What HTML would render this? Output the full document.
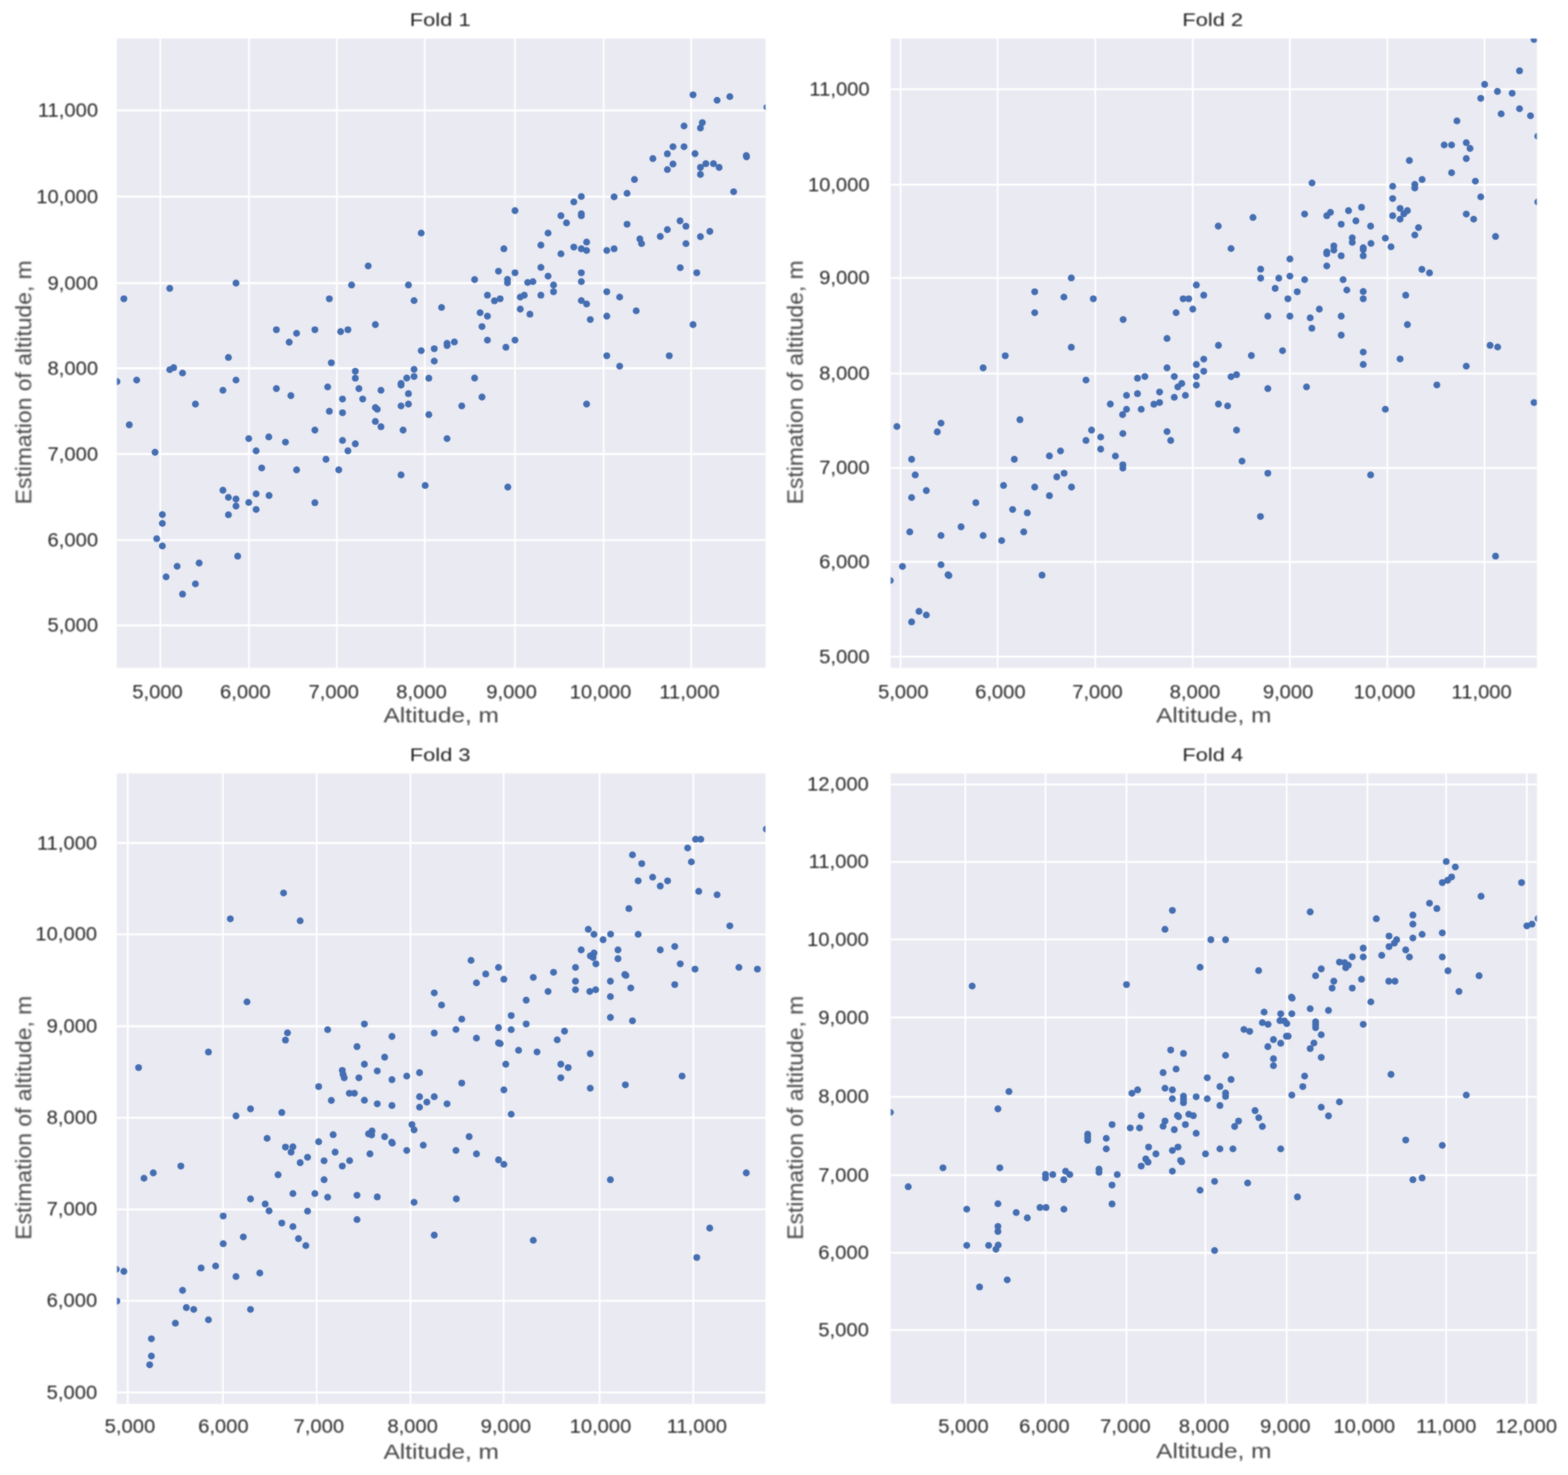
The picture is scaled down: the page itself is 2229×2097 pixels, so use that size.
<!DOCTYPE html>
<html lang="en"><head><meta charset="utf-8"><title>Fold scatter plots</title>
<style>html,body{margin:0;padding:0;background:#fff}body{width:2229px;height:2097px;overflow:hidden}svg{display:block}.bl{filter:blur(0.9px)}text{font-family:"Liberation Sans",sans-serif;fill:#222}.tk{font-size:27.5px}.ti{font-size:26.6px}.lb{font-size:29.6px;fill:#454545}.yl{font-size:31.2px;fill:#454545}.g{stroke:#fff;stroke-width:2.8}.v{stroke-width:2.5}.d{fill:#446eb2}</style></head><body>
<svg xmlns="http://www.w3.org/2000/svg" width="2229" height="2097" viewBox="0 0 2229 2097">
<rect width="2229" height="2097" fill="#fff"/>
<g class="bl">
<g>
<clipPath id="c1a"><rect x="166.4" y="55.0" width="921.7" height="894.2"/></clipPath>
<rect x="166.4" y="55.0" width="921.7" height="894.2" fill="#eaeaf2"/>
<g class="g">
<line class="v" x1="227.9" y1="55.0" x2="227.9" y2="949.2"/>
<line class="v" x1="354.0" y1="55.0" x2="354.0" y2="949.2"/>
<line class="v" x1="478.9" y1="55.0" x2="478.9" y2="949.2"/>
<line class="v" x1="603.9" y1="55.0" x2="603.9" y2="949.2"/>
<line class="v" x1="732.0" y1="55.0" x2="732.0" y2="949.2"/>
<line class="v" x1="858.1" y1="55.0" x2="858.1" y2="949.2"/>
<line class="v" x1="982.5" y1="55.0" x2="982.5" y2="949.2"/>
<line x1="166.4" y1="889.0" x2="1088.1" y2="889.0"/>
<line x1="166.4" y1="767.8" x2="1088.1" y2="767.8"/>
<line x1="166.4" y1="645.5" x2="1088.1" y2="645.5"/>
<line x1="166.4" y1="523.5" x2="1088.1" y2="523.5"/>
<line x1="166.4" y1="402.5" x2="1088.1" y2="402.5"/>
<line x1="166.4" y1="279.7" x2="1088.1" y2="279.7"/>
<line x1="166.4" y1="157.0" x2="1088.1" y2="157.0"/>
</g>
<g class="d" clip-path="url(#c1a)">
<circle cx="635.5" cy="491.3" r="4.9"/>
<circle cx="635.5" cy="488.1" r="4.9"/>
<circle cx="617.3" cy="495.8" r="4.9"/>
<circle cx="645.9" cy="486.2" r="4.9"/>
<circle cx="337.9" cy="790.7" r="4.9"/>
<circle cx="956.7" cy="208.6" r="4.9"/>
<circle cx="951.4" cy="505.8" r="4.9"/>
<circle cx="324.7" cy="508.2" r="4.9"/>
<circle cx="948.7" cy="218.7" r="4.9"/>
<circle cx="598.8" cy="498.6" r="4.9"/>
<circle cx="972.4" cy="179.1" r="4.9"/>
<circle cx="972.4" cy="208.6" r="4.9"/>
<circle cx="617.3" cy="513.4" r="4.9"/>
<circle cx="928.1" cy="225.5" r="4.9"/>
<circle cx="283.1" cy="800.5" r="4.9"/>
<circle cx="956.7" cy="233.2" r="4.9"/>
<circle cx="588.6" cy="525.1" r="4.9"/>
<circle cx="985.2" cy="461.5" r="4.9"/>
<circle cx="988.0" cy="218.5" r="4.9"/>
<circle cx="948.7" cy="241.1" r="4.9"/>
<circle cx="277.8" cy="830.1" r="4.9"/>
<circle cx="685.2" cy="464.3" r="4.9"/>
<circle cx="588.6" cy="535.3" r="4.9"/>
<circle cx="682.5" cy="444.6" r="4.9"/>
<circle cx="995.7" cy="182.0" r="4.9"/>
<circle cx="995.7" cy="238.0" r="4.9"/>
<circle cx="578.2" cy="537.5" r="4.9"/>
<circle cx="674.7" cy="537.5" r="4.9"/>
<circle cx="609.6" cy="537.7" r="4.9"/>
<circle cx="995.7" cy="248.0" r="4.9"/>
<circle cx="904.4" cy="441.9" r="4.9"/>
<circle cx="998.4" cy="174.3" r="4.9"/>
<circle cx="880.9" cy="520.6" r="4.9"/>
<circle cx="335.5" cy="540.4" r="4.9"/>
<circle cx="259.5" cy="530.4" r="4.9"/>
<circle cx="627.7" cy="437.1" r="4.9"/>
<circle cx="692.9" cy="449.5" r="4.9"/>
<circle cx="692.9" cy="483.6" r="4.9"/>
<circle cx="324.7" cy="731.9" r="4.9"/>
<circle cx="1003.4" cy="232.7" r="4.9"/>
<circle cx="901.9" cy="255.2" r="4.9"/>
<circle cx="570.1" cy="545.2" r="4.9"/>
<circle cx="570.1" cy="547.6" r="4.9"/>
<circle cx="251.8" cy="805.1" r="4.9"/>
<circle cx="259.5" cy="844.7" r="4.9"/>
<circle cx="364.1" cy="724.3" r="4.9"/>
<circle cx="588.6" cy="427.4" r="4.9"/>
<circle cx="392.9" cy="468.8" r="4.9"/>
<circle cx="392.9" cy="552.5" r="4.9"/>
<circle cx="702.9" cy="427.7" r="4.9"/>
<circle cx="246.9" cy="522.7" r="4.9"/>
<circle cx="1014.2" cy="232.7" r="4.9"/>
<circle cx="316.9" cy="554.9" r="4.9"/>
<circle cx="985.2" cy="134.8" r="4.9"/>
<circle cx="335.5" cy="719.5" r="4.9"/>
<circle cx="862.6" cy="449.5" r="4.9"/>
<circle cx="862.6" cy="505.8" r="4.9"/>
<circle cx="880.9" cy="422.4" r="4.9"/>
<circle cx="241.3" cy="525.6" r="4.9"/>
<circle cx="1019.4" cy="142.6" r="4.9"/>
<circle cx="580.6" cy="559.7" r="4.9"/>
<circle cx="692.9" cy="419.7" r="4.9"/>
<circle cx="353.6" cy="714.4" r="4.9"/>
<circle cx="711.0" cy="424.8" r="4.9"/>
<circle cx="1022.3" cy="238.0" r="4.9"/>
<circle cx="236.1" cy="820.1" r="4.9"/>
<circle cx="685.2" cy="564.5" r="4.9"/>
<circle cx="891.4" cy="274.9" r="4.9"/>
<circle cx="862.6" cy="414.8" r="4.9"/>
<circle cx="335.5" cy="709.5" r="4.9"/>
<circle cx="324.7" cy="707.1" r="4.9"/>
<circle cx="541.6" cy="554.9" r="4.9"/>
<circle cx="719.2" cy="493.7" r="4.9"/>
<circle cx="230.8" cy="731.6" r="4.9"/>
<circle cx="230.8" cy="744.1" r="4.9"/>
<circle cx="230.8" cy="776.2" r="4.9"/>
<circle cx="873.0" cy="279.9" r="4.9"/>
<circle cx="241.3" cy="410.0" r="4.9"/>
<circle cx="382.5" cy="704.5" r="4.9"/>
<circle cx="411.1" cy="486.5" r="4.9"/>
<circle cx="364.1" cy="702.1" r="4.9"/>
<circle cx="413.5" cy="562.5" r="4.9"/>
<circle cx="277.8" cy="574.5" r="4.9"/>
<circle cx="580.6" cy="574.5" r="4.9"/>
<circle cx="580.6" cy="405.2" r="4.9"/>
<circle cx="533.6" cy="461.5" r="4.9"/>
<circle cx="570.1" cy="577.1" r="4.9"/>
<circle cx="656.4" cy="577.1" r="4.9"/>
<circle cx="222.8" cy="765.9" r="4.9"/>
<circle cx="1037.5" cy="137.4" r="4.9"/>
<circle cx="335.5" cy="402.5" r="4.9"/>
<circle cx="721.4" cy="402.0" r="4.9"/>
<circle cx="316.9" cy="697.0" r="4.9"/>
<circle cx="533.6" cy="579.4" r="4.9"/>
<circle cx="839.1" cy="454.3" r="4.9"/>
<circle cx="421.6" cy="473.9" r="4.9"/>
<circle cx="536.3" cy="581.9" r="4.9"/>
<circle cx="732.1" cy="483.6" r="4.9"/>
<circle cx="674.7" cy="397.5" r="4.9"/>
<circle cx="721.9" cy="692.5" r="4.9"/>
<circle cx="1042.9" cy="272.6" r="4.9"/>
<circle cx="721.4" cy="397.1" r="4.9"/>
<circle cx="604.4" cy="690.2" r="4.9"/>
<circle cx="833.9" cy="432.2" r="4.9"/>
<circle cx="833.9" cy="574.5" r="4.9"/>
<circle cx="732.1" cy="299.5" r="4.9"/>
<circle cx="609.6" cy="589.5" r="4.9"/>
<circle cx="739.6" cy="422.4" r="4.9"/>
<circle cx="739.6" cy="439.5" r="4.9"/>
<circle cx="732.1" cy="387.8" r="4.9"/>
<circle cx="990.5" cy="387.8" r="4.9"/>
<circle cx="826.4" cy="279.4" r="4.9"/>
<circle cx="826.4" cy="387.8" r="4.9"/>
<circle cx="826.4" cy="400.4" r="4.9"/>
<circle cx="826.4" cy="427.4" r="4.9"/>
<circle cx="826.4" cy="304.0" r="4.9"/>
<circle cx="708.6" cy="385.6" r="4.9"/>
<circle cx="515.6" cy="567.3" r="4.9"/>
<circle cx="745.3" cy="419.7" r="4.9"/>
<circle cx="826.4" cy="306.7" r="4.9"/>
<circle cx="533.6" cy="599.2" r="4.9"/>
<circle cx="967.0" cy="380.6" r="4.9"/>
<circle cx="510.2" cy="552.5" r="4.9"/>
<circle cx="570.1" cy="675.2" r="4.9"/>
<circle cx="750.1" cy="401.6" r="4.9"/>
<circle cx="1060.9" cy="221.1" r="4.9"/>
<circle cx="1061.2" cy="223.0" r="4.9"/>
<circle cx="523.4" cy="378.1" r="4.9"/>
<circle cx="753.3" cy="446.7" r="4.9"/>
<circle cx="966.7" cy="314.0" r="4.9"/>
<circle cx="815.7" cy="287.1" r="4.9"/>
<circle cx="505.1" cy="527.8" r="4.9"/>
<circle cx="505.1" cy="537.7" r="4.9"/>
<circle cx="194.3" cy="540.4" r="4.9"/>
<circle cx="541.6" cy="606.7" r="4.9"/>
<circle cx="421.6" cy="668.0" r="4.9"/>
<circle cx="447.6" cy="468.8" r="4.9"/>
<circle cx="757.6" cy="400.4" r="4.9"/>
<circle cx="447.6" cy="714.7" r="4.9"/>
<circle cx="891.4" cy="318.8" r="4.9"/>
<circle cx="372.0" cy="665.3" r="4.9"/>
<circle cx="499.8" cy="405.2" r="4.9"/>
<circle cx="447.6" cy="611.5" r="4.9"/>
<circle cx="573.0" cy="611.5" r="4.9"/>
<circle cx="975.1" cy="321.7" r="4.9"/>
<circle cx="805.3" cy="316.9" r="4.9"/>
<circle cx="494.6" cy="468.8" r="4.9"/>
<circle cx="183.8" cy="604.0" r="4.9"/>
<circle cx="948.7" cy="326.5" r="4.9"/>
<circle cx="768.9" cy="380.2" r="4.9"/>
<circle cx="768.9" cy="419.7" r="4.9"/>
<circle cx="1009.1" cy="329.0" r="4.9"/>
<circle cx="382.1" cy="621.2" r="4.9"/>
<circle cx="598.8" cy="331.4" r="4.9"/>
<circle cx="797.4" cy="306.7" r="4.9"/>
<circle cx="797.4" cy="360.9" r="4.9"/>
<circle cx="486.9" cy="567.3" r="4.9"/>
<circle cx="486.9" cy="586.8" r="4.9"/>
<circle cx="463.4" cy="653.0" r="4.9"/>
<circle cx="353.6" cy="623.6" r="4.9"/>
<circle cx="635.5" cy="623.6" r="4.9"/>
<circle cx="176.1" cy="424.8" r="4.9"/>
<circle cx="833.9" cy="356.1" r="4.9"/>
<circle cx="862.6" cy="356.1" r="4.9"/>
<circle cx="465.8" cy="550.1" r="4.9"/>
<circle cx="484.2" cy="471.5" r="4.9"/>
<circle cx="938.6" cy="336.2" r="4.9"/>
<circle cx="486.9" cy="626.2" r="4.9"/>
<circle cx="716.3" cy="353.7" r="4.9"/>
<circle cx="826.4" cy="353.7" r="4.9"/>
<circle cx="873.0" cy="353.7" r="4.9"/>
<circle cx="995.7" cy="336.5" r="4.9"/>
<circle cx="468.2" cy="424.8" r="4.9"/>
<circle cx="468.2" cy="584.7" r="4.9"/>
<circle cx="1090.2" cy="152.4" r="4.9"/>
<circle cx="481.6" cy="668.0" r="4.9"/>
<circle cx="405.8" cy="628.6" r="4.9"/>
<circle cx="815.7" cy="351.3" r="4.9"/>
<circle cx="779.1" cy="331.4" r="4.9"/>
<circle cx="779.1" cy="392.6" r="4.9"/>
<circle cx="909.6" cy="339.7" r="4.9"/>
<circle cx="471.0" cy="515.8" r="4.9"/>
<circle cx="505.1" cy="631.0" r="4.9"/>
<circle cx="768.9" cy="348.5" r="4.9"/>
<circle cx="220.4" cy="643.0" r="4.9"/>
<circle cx="786.9" cy="405.2" r="4.9"/>
<circle cx="786.9" cy="414.8" r="4.9"/>
<circle cx="166.2" cy="542.5" r="4.9"/>
<circle cx="912.0" cy="346.4" r="4.9"/>
<circle cx="975.1" cy="346.4" r="4.9"/>
<circle cx="364.1" cy="641.0" r="4.9"/>
<circle cx="494.6" cy="641.0" r="4.9"/>
<circle cx="833.9" cy="344.2" r="4.9"/>
</g></g>
<g>
<clipPath id="c2a"><rect x="1266.3" y="55.0" width="918.2" height="894.2"/></clipPath>
<rect x="1266.3" y="55.0" width="918.2" height="894.2" fill="#eaeaf2"/>
<g class="g">
<line class="v" x1="1280.1" y1="55.0" x2="1280.1" y2="949.2"/>
<line class="v" x1="1418.1" y1="55.0" x2="1418.1" y2="949.2"/>
<line class="v" x1="1557.0" y1="55.0" x2="1557.0" y2="949.2"/>
<line class="v" x1="1695.6" y1="55.0" x2="1695.6" y2="949.2"/>
<line class="v" x1="1833.7" y1="55.0" x2="1833.7" y2="949.2"/>
<line class="v" x1="1972.1" y1="55.0" x2="1972.1" y2="949.2"/>
<line class="v" x1="2110.2" y1="55.0" x2="2110.2" y2="949.2"/>
<line x1="1266.3" y1="933.6" x2="2184.5" y2="933.6"/>
<line x1="1266.3" y1="798.9" x2="2184.5" y2="798.9"/>
<line x1="1266.3" y1="665.3" x2="2184.5" y2="665.3"/>
<line x1="1266.3" y1="531.1" x2="2184.5" y2="531.1"/>
<line x1="1266.3" y1="395.2" x2="2184.5" y2="395.2"/>
<line x1="1266.3" y1="262.7" x2="2184.5" y2="262.7"/>
<line x1="1266.3" y1="126.9" x2="2184.5" y2="126.9"/>
</g>
<g class="d" clip-path="url(#c2a)">
<circle cx="1732.1" cy="491.0" r="4.9"/>
<circle cx="2053.0" cy="206.1" r="4.9"/>
<circle cx="2063.5" cy="206.1" r="4.9"/>
<circle cx="1429.0" cy="505.8" r="4.9"/>
<circle cx="1423.9" cy="768.6" r="4.9"/>
<circle cx="1711.2" cy="510.6" r="4.9"/>
<circle cx="1397.6" cy="761.4" r="4.9"/>
<circle cx="2071.1" cy="171.9" r="4.9"/>
<circle cx="2003.5" cy="228.2" r="4.9"/>
<circle cx="1700.7" cy="518.2" r="4.9"/>
<circle cx="1455.3" cy="756.2" r="4.9"/>
<circle cx="2000.7" cy="461.5" r="4.9"/>
<circle cx="1397.6" cy="523.0" r="4.9"/>
<circle cx="2084.4" cy="202.9" r="4.9"/>
<circle cx="2084.4" cy="225.5" r="4.9"/>
<circle cx="2084.4" cy="520.6" r="4.9"/>
<circle cx="1711.2" cy="527.8" r="4.9"/>
<circle cx="1778.9" cy="505.5" r="4.9"/>
<circle cx="2089.7" cy="211.0" r="4.9"/>
<circle cx="1990.3" cy="510.3" r="4.9"/>
<circle cx="1757.8" cy="532.7" r="4.9"/>
<circle cx="1366.2" cy="749.0" r="4.9"/>
<circle cx="1700.7" cy="535.3" r="4.9"/>
<circle cx="1470.9" cy="444.6" r="4.9"/>
<circle cx="2063.5" cy="245.6" r="4.9"/>
<circle cx="1750.0" cy="535.6" r="4.9"/>
<circle cx="1671.9" cy="444.6" r="4.9"/>
<circle cx="1695.6" cy="439.5" r="4.9"/>
<circle cx="1669.3" cy="535.3" r="4.9"/>
<circle cx="1481.3" cy="817.7" r="4.9"/>
<circle cx="1791.8" cy="734.3" r="4.9"/>
<circle cx="2021.6" cy="255.2" r="4.9"/>
<circle cx="1679.9" cy="545.2" r="4.9"/>
<circle cx="1460.4" cy="729.2" r="4.9"/>
<circle cx="2042.6" cy="547.3" r="4.9"/>
<circle cx="2097.3" cy="257.6" r="4.9"/>
<circle cx="1700.7" cy="547.6" r="4.9"/>
<circle cx="1674.3" cy="550.1" r="4.9"/>
<circle cx="2105.0" cy="139.8" r="4.9"/>
<circle cx="1439.5" cy="724.3" r="4.9"/>
<circle cx="1659.0" cy="481.2" r="4.9"/>
<circle cx="1659.0" cy="523.0" r="4.9"/>
<circle cx="1348.9" cy="818.3" r="4.9"/>
<circle cx="2011.2" cy="262.2" r="4.9"/>
<circle cx="1802.3" cy="449.5" r="4.9"/>
<circle cx="1347.7" cy="817.2" r="4.9"/>
<circle cx="1802.3" cy="552.5" r="4.9"/>
<circle cx="1979.8" cy="264.9" r="4.9"/>
<circle cx="1681.9" cy="424.8" r="4.9"/>
<circle cx="1689.9" cy="424.8" r="4.9"/>
<circle cx="2011.2" cy="267.3" r="4.9"/>
<circle cx="2118.2" cy="491.0" r="4.9"/>
<circle cx="1711.2" cy="419.7" r="4.9"/>
<circle cx="1998.3" cy="419.7" r="4.9"/>
<circle cx="1387.2" cy="714.7" r="4.9"/>
<circle cx="1648.4" cy="557.3" r="4.9"/>
<circle cx="1685.1" cy="562.1" r="4.9"/>
<circle cx="1337.7" cy="761.4" r="4.9"/>
<circle cx="1337.7" cy="802.9" r="4.9"/>
<circle cx="1669.3" cy="564.9" r="4.9"/>
<circle cx="1470.9" cy="414.8" r="4.9"/>
<circle cx="2126.0" cy="790.7" r="4.9"/>
<circle cx="2128.7" cy="130.0" r="4.9"/>
<circle cx="2129.0" cy="493.4" r="4.9"/>
<circle cx="2105.0" cy="279.9" r="4.9"/>
<circle cx="2110.5" cy="120.0" r="4.9"/>
<circle cx="1812.7" cy="410.0" r="4.9"/>
<circle cx="1491.8" cy="704.7" r="4.9"/>
<circle cx="1979.8" cy="282.3" r="4.9"/>
<circle cx="1648.4" cy="572.3" r="4.9"/>
<circle cx="1512.4" cy="422.4" r="4.9"/>
<circle cx="1823.2" cy="498.6" r="4.9"/>
<circle cx="2134.0" cy="161.9" r="4.9"/>
<circle cx="1732.1" cy="574.5" r="4.9"/>
<circle cx="1640.3" cy="574.7" r="4.9"/>
<circle cx="1700.7" cy="405.2" r="4.9"/>
<circle cx="1745.1" cy="577.1" r="4.9"/>
<circle cx="1830.8" cy="424.8" r="4.9"/>
<circle cx="1969.3" cy="581.9" r="4.9"/>
<circle cx="1937.9" cy="414.5" r="4.9"/>
<circle cx="1937.9" cy="424.8" r="4.9"/>
<circle cx="1937.9" cy="500.6" r="4.9"/>
<circle cx="1937.9" cy="518.2" r="4.9"/>
<circle cx="1627.5" cy="535.3" r="4.9"/>
<circle cx="1470.9" cy="692.5" r="4.9"/>
<circle cx="1522.9" cy="493.7" r="4.9"/>
<circle cx="1523.2" cy="692.5" r="4.9"/>
<circle cx="1316.8" cy="697.5" r="4.9"/>
<circle cx="1316.8" cy="874.4" r="4.9"/>
<circle cx="1833.7" cy="449.5" r="4.9"/>
<circle cx="1792.1" cy="395.5" r="4.9"/>
<circle cx="1817.9" cy="395.5" r="4.9"/>
<circle cx="1935.5" cy="294.7" r="4.9"/>
<circle cx="1522.9" cy="395.2" r="4.9"/>
<circle cx="1426.6" cy="690.2" r="4.9"/>
<circle cx="1990.3" cy="296.3" r="4.9"/>
<circle cx="1833.7" cy="392.6" r="4.9"/>
<circle cx="1622.3" cy="581.9" r="4.9"/>
<circle cx="2000.7" cy="299.5" r="4.9"/>
<circle cx="2149.6" cy="132.6" r="4.9"/>
<circle cx="2032.1" cy="388.0" r="4.9"/>
<circle cx="1617.0" cy="537.7" r="4.9"/>
<circle cx="1617.0" cy="559.7" r="4.9"/>
<circle cx="1306.4" cy="869.2" r="4.9"/>
<circle cx="1995.6" cy="304.0" r="4.9"/>
<circle cx="1844.1" cy="414.8" r="4.9"/>
<circle cx="2084.4" cy="304.3" r="4.9"/>
<circle cx="1979.8" cy="306.7" r="4.9"/>
<circle cx="1449.9" cy="596.7" r="4.9"/>
<circle cx="2021.3" cy="383.0" r="4.9"/>
<circle cx="1502.3" cy="678.0" r="4.9"/>
<circle cx="1792.1" cy="382.7" r="4.9"/>
<circle cx="1781.2" cy="309.2" r="4.9"/>
<circle cx="1301.0" cy="675.2" r="4.9"/>
<circle cx="1948.4" cy="675.2" r="4.9"/>
<circle cx="2160.1" cy="100.7" r="4.9"/>
<circle cx="2160.1" cy="154.6" r="4.9"/>
<circle cx="1990.3" cy="311.6" r="4.9"/>
<circle cx="2094.9" cy="311.6" r="4.9"/>
<circle cx="1337.7" cy="601.6" r="4.9"/>
<circle cx="1512.7" cy="672.8" r="4.9"/>
<circle cx="1802.3" cy="672.8" r="4.9"/>
<circle cx="1917.0" cy="299.5" r="4.9"/>
<circle cx="1543.8" cy="540.4" r="4.9"/>
<circle cx="1927.5" cy="314.0" r="4.9"/>
<circle cx="1295.9" cy="707.4" r="4.9"/>
<circle cx="1295.9" cy="884.2" r="4.9"/>
<circle cx="1854.6" cy="304.3" r="4.9"/>
<circle cx="1854.6" cy="397.6" r="4.9"/>
<circle cx="1914.6" cy="412.4" r="4.9"/>
<circle cx="1293.3" cy="756.2" r="4.9"/>
<circle cx="1857.3" cy="550.1" r="4.9"/>
<circle cx="1601.4" cy="562.1" r="4.9"/>
<circle cx="1601.4" cy="581.9" r="4.9"/>
<circle cx="1909.3" cy="397.6" r="4.9"/>
<circle cx="1731.8" cy="321.5" r="4.9"/>
<circle cx="1948.4" cy="321.5" r="4.9"/>
<circle cx="1757.8" cy="611.5" r="4.9"/>
<circle cx="1551.7" cy="611.5" r="4.9"/>
<circle cx="1833.7" cy="368.2" r="4.9"/>
<circle cx="1862.5" cy="451.9" r="4.9"/>
<circle cx="1906.6" cy="318.8" r="4.9"/>
<circle cx="1596.6" cy="454.3" r="4.9"/>
<circle cx="1906.6" cy="449.5" r="4.9"/>
<circle cx="1906.6" cy="476.5" r="4.9"/>
<circle cx="2016.5" cy="323.6" r="4.9"/>
<circle cx="1659.0" cy="613.6" r="4.9"/>
<circle cx="1596.2" cy="665.6" r="4.9"/>
<circle cx="1332.4" cy="614.0" r="4.9"/>
<circle cx="1554.2" cy="424.8" r="4.9"/>
<circle cx="1595.8" cy="589.5" r="4.9"/>
<circle cx="1596.2" cy="660.8" r="4.9"/>
<circle cx="1864.9" cy="466.7" r="4.9"/>
<circle cx="1865.1" cy="260.1" r="4.9"/>
<circle cx="2175.7" cy="164.6" r="4.9"/>
<circle cx="1906.6" cy="363.7" r="4.9"/>
<circle cx="1937.9" cy="363.7" r="4.9"/>
<circle cx="1596.2" cy="616.4" r="4.9"/>
<circle cx="1282.9" cy="805.3" r="4.9"/>
<circle cx="1765.6" cy="655.6" r="4.9"/>
<circle cx="2180.7" cy="572.3" r="4.9"/>
<circle cx="1295.9" cy="653.0" r="4.9"/>
<circle cx="1441.9" cy="653.0" r="4.9"/>
<circle cx="2011.2" cy="334.1" r="4.9"/>
<circle cx="2186.0" cy="193.7" r="4.9"/>
<circle cx="2186.0" cy="287.1" r="4.9"/>
<circle cx="1896.1" cy="355.6" r="4.9"/>
<circle cx="1564.7" cy="621.4" r="4.9"/>
<circle cx="1275.0" cy="606.4" r="4.9"/>
<circle cx="1937.9" cy="354.8" r="4.9"/>
<circle cx="1875.5" cy="439.5" r="4.9"/>
<circle cx="2126.0" cy="336.2" r="4.9"/>
<circle cx="1543.8" cy="626.2" r="4.9"/>
<circle cx="1664.2" cy="626.2" r="4.9"/>
<circle cx="1750.0" cy="353.4" r="4.9"/>
<circle cx="1585.6" cy="648.4" r="4.9"/>
<circle cx="1491.8" cy="648.2" r="4.9"/>
<circle cx="1937.9" cy="352.1" r="4.9"/>
<circle cx="1922.3" cy="338.1" r="4.9"/>
<circle cx="1969.3" cy="338.6" r="4.9"/>
<circle cx="1891.3" cy="301.9" r="4.9"/>
<circle cx="1977.4" cy="350.9" r="4.9"/>
<circle cx="1896.1" cy="349.7" r="4.9"/>
<circle cx="1578.4" cy="574.5" r="4.9"/>
<circle cx="1265.6" cy="825.3" r="4.9"/>
<circle cx="2180.7" cy="56.1" r="4.9"/>
<circle cx="1886.1" cy="306.7" r="4.9"/>
<circle cx="1948.9" cy="346.1" r="4.9"/>
<circle cx="1886.1" cy="358.2" r="4.9"/>
<circle cx="1886.1" cy="360.9" r="4.9"/>
<circle cx="1886.1" cy="378.1" r="4.9"/>
<circle cx="1507.6" cy="641.1" r="4.9"/>
<circle cx="1922.3" cy="344.6" r="4.9"/>
<circle cx="1564.7" cy="638.5" r="4.9"/>
</g></g>
<g>
<clipPath id="c3a"><rect x="166.4" y="1099.9" width="921.6" height="895.6"/></clipPath>
<rect x="166.4" y="1099.9" width="921.6" height="895.6" fill="#eaeaf2"/>
<g class="g">
<line class="v" x1="181.7" y1="1099.9" x2="181.7" y2="1995.5"/>
<line class="v" x1="316.9" y1="1099.9" x2="316.9" y2="1995.5"/>
<line class="v" x1="450.2" y1="1099.9" x2="450.2" y2="1995.5"/>
<line class="v" x1="583.5" y1="1099.9" x2="583.5" y2="1995.5"/>
<line class="v" x1="716.0" y1="1099.9" x2="716.0" y2="1995.5"/>
<line class="v" x1="852.4" y1="1099.9" x2="852.4" y2="1995.5"/>
<line class="v" x1="985.6" y1="1099.9" x2="985.6" y2="1995.5"/>
<line x1="166.4" y1="1979.7" x2="1088.0" y2="1979.7"/>
<line x1="166.4" y1="1849.3" x2="1088.0" y2="1849.3"/>
<line x1="166.4" y1="1719.4" x2="1088.0" y2="1719.4"/>
<line x1="166.4" y1="1589.1" x2="1088.0" y2="1589.1"/>
<line x1="166.4" y1="1459.0" x2="1088.0" y2="1459.0"/>
<line x1="166.4" y1="1328.4" x2="1088.0" y2="1328.4"/>
<line x1="166.4" y1="1198.5" x2="1088.0" y2="1198.5"/>
</g>
<g class="d" clip-path="url(#c3a)">
<circle cx="927.8" cy="1247.1" r="4.9"/>
<circle cx="949.0" cy="1252.3" r="4.9"/>
<circle cx="938.6" cy="1259.7" r="4.9"/>
<circle cx="335.5" cy="1814.9" r="4.9"/>
<circle cx="656.4" cy="1539.8" r="4.9"/>
<circle cx="912.3" cy="1227.8" r="4.9"/>
<circle cx="969.6" cy="1529.9" r="4.9"/>
<circle cx="907.2" cy="1252.3" r="4.9"/>
<circle cx="596.4" cy="1525.0" r="4.9"/>
<circle cx="596.4" cy="1559.2" r="4.9"/>
<circle cx="617.3" cy="1559.2" r="4.9"/>
<circle cx="285.9" cy="1802.7" r="4.9"/>
<circle cx="306.5" cy="1799.9" r="4.9"/>
<circle cx="899.1" cy="1215.4" r="4.9"/>
<circle cx="356.1" cy="1861.6" r="4.9"/>
<circle cx="606.8" cy="1566.9" r="4.9"/>
<circle cx="982.8" cy="1225.4" r="4.9"/>
<circle cx="635.5" cy="1569.3" r="4.9"/>
<circle cx="275.4" cy="1861.6" r="4.9"/>
<circle cx="596.4" cy="1574.1" r="4.9"/>
<circle cx="296.3" cy="1495.7" r="4.9"/>
<circle cx="369.3" cy="1809.9" r="4.9"/>
<circle cx="977.5" cy="1205.6" r="4.9"/>
<circle cx="889.0" cy="1542.3" r="4.9"/>
<circle cx="356.1" cy="1576.5" r="4.9"/>
<circle cx="578.2" cy="1529.9" r="4.9"/>
<circle cx="990.5" cy="1787.8" r="4.9"/>
<circle cx="993.3" cy="1267.2" r="4.9"/>
<circle cx="264.9" cy="1859.0" r="4.9"/>
<circle cx="296.3" cy="1876.4" r="4.9"/>
<circle cx="894.0" cy="1291.7" r="4.9"/>
<circle cx="259.5" cy="1834.5" r="4.9"/>
<circle cx="335.5" cy="1586.5" r="4.9"/>
<circle cx="988.8" cy="1193.2" r="4.9"/>
<circle cx="996.2" cy="1193.2" r="4.9"/>
<circle cx="677.3" cy="1475.9" r="4.9"/>
<circle cx="249.3" cy="1881.2" r="4.9"/>
<circle cx="327.4" cy="1306.3" r="4.9"/>
<circle cx="317.3" cy="1768.2" r="4.9"/>
<circle cx="557.2" cy="1473.5" r="4.9"/>
<circle cx="557.2" cy="1535.0" r="4.9"/>
<circle cx="557.2" cy="1571.7" r="4.9"/>
<circle cx="585.6" cy="1598.8" r="4.9"/>
<circle cx="617.3" cy="1468.7" r="4.9"/>
<circle cx="708.7" cy="1482.7" r="4.9"/>
<circle cx="1019.4" cy="1272.1" r="4.9"/>
<circle cx="400.6" cy="1581.7" r="4.9"/>
<circle cx="711.0" cy="1483.7" r="4.9"/>
<circle cx="588.6" cy="1606.3" r="4.9"/>
<circle cx="648.2" cy="1463.6" r="4.9"/>
<circle cx="345.9" cy="1758.6" r="4.9"/>
<circle cx="403.1" cy="1269.6" r="4.9"/>
<circle cx="546.8" cy="1503.0" r="4.9"/>
<circle cx="708.6" cy="1461.0" r="4.9"/>
<circle cx="617.3" cy="1756.0" r="4.9"/>
<circle cx="405.8" cy="1478.7" r="4.9"/>
<circle cx="716.3" cy="1549.5" r="4.9"/>
<circle cx="408.7" cy="1468.4" r="4.9"/>
<circle cx="719.0" cy="1513.0" r="4.9"/>
<circle cx="546.8" cy="1616.0" r="4.9"/>
<circle cx="666.9" cy="1616.0" r="4.9"/>
<circle cx="868.0" cy="1328.1" r="4.9"/>
<circle cx="907.2" cy="1328.4" r="4.9"/>
<circle cx="379.7" cy="1618.4" r="4.9"/>
<circle cx="536.3" cy="1522.6" r="4.9"/>
<circle cx="536.3" cy="1569.3" r="4.9"/>
<circle cx="899.1" cy="1451.3" r="4.9"/>
<circle cx="1008.9" cy="1746.0" r="4.9"/>
<circle cx="844.4" cy="1328.4" r="4.9"/>
<circle cx="656.4" cy="1448.9" r="4.9"/>
<circle cx="416.4" cy="1743.9" r="4.9"/>
<circle cx="726.7" cy="1463.9" r="4.9"/>
<circle cx="726.7" cy="1584.1" r="4.9"/>
<circle cx="1037.5" cy="1316.3" r="4.9"/>
<circle cx="867.7" cy="1446.5" r="4.9"/>
<circle cx="556.9" cy="1623.9" r="4.9"/>
<circle cx="557.7" cy="1625.2" r="4.9"/>
<circle cx="839.1" cy="1498.0" r="4.9"/>
<circle cx="839.1" cy="1547.1" r="4.9"/>
<circle cx="857.3" cy="1336.0" r="4.9"/>
<circle cx="726.7" cy="1443.8" r="4.9"/>
<circle cx="528.8" cy="1607.9" r="4.9"/>
<circle cx="400.6" cy="1738.8" r="4.9"/>
<circle cx="528.3" cy="1613.6" r="4.9"/>
<circle cx="601.7" cy="1628.1" r="4.9"/>
<circle cx="836.3" cy="1321.2" r="4.9"/>
<circle cx="424.3" cy="1761.0" r="4.9"/>
<circle cx="215.2" cy="1903.3" r="4.9"/>
<circle cx="416.4" cy="1630.5" r="4.9"/>
<circle cx="405.8" cy="1630.8" r="4.9"/>
<circle cx="523.9" cy="1612.0" r="4.9"/>
<circle cx="426.7" cy="1309.1" r="4.9"/>
<circle cx="737.2" cy="1493.2" r="4.9"/>
<circle cx="215.2" cy="1927.9" r="4.9"/>
<circle cx="959.2" cy="1345.6" r="4.9"/>
<circle cx="578.2" cy="1635.6" r="4.9"/>
<circle cx="648.2" cy="1635.6" r="4.9"/>
<circle cx="317.3" cy="1728.8" r="4.9"/>
<circle cx="518.0" cy="1455.8" r="4.9"/>
<circle cx="518.0" cy="1513.0" r="4.9"/>
<circle cx="518.0" cy="1564.2" r="4.9"/>
<circle cx="413.8" cy="1638.0" r="4.9"/>
<circle cx="434.8" cy="1770.9" r="4.9"/>
<circle cx="938.6" cy="1350.5" r="4.9"/>
<circle cx="826.2" cy="1350.5" r="4.9"/>
<circle cx="878.5" cy="1350.5" r="4.9"/>
<circle cx="525.9" cy="1640.5" r="4.9"/>
<circle cx="677.3" cy="1640.5" r="4.9"/>
<circle cx="627.7" cy="1428.9" r="4.9"/>
<circle cx="748.0" cy="1455.8" r="4.9"/>
<circle cx="437.2" cy="1721.9" r="4.9"/>
<circle cx="382.5" cy="1721.5" r="4.9"/>
<circle cx="510.2" cy="1532.3" r="4.9"/>
<circle cx="844.4" cy="1355.0" r="4.9"/>
<circle cx="437.2" cy="1645.3" r="4.9"/>
<circle cx="212.8" cy="1940.3" r="4.9"/>
<circle cx="351.1" cy="1424.4" r="4.9"/>
<circle cx="507.5" cy="1488.0" r="4.9"/>
<circle cx="507.5" cy="1733.9" r="4.9"/>
<circle cx="197.0" cy="1517.8" r="4.9"/>
<circle cx="748.0" cy="1422.0" r="4.9"/>
<circle cx="839.2" cy="1359.0" r="4.9"/>
<circle cx="708.7" cy="1649.0" r="4.9"/>
<circle cx="503.8" cy="1554.3" r="4.9"/>
<circle cx="843.1" cy="1361.4" r="4.9"/>
<circle cx="878.5" cy="1363.0" r="4.9"/>
<circle cx="426.7" cy="1653.0" r="4.9"/>
<circle cx="867.7" cy="1416.9" r="4.9"/>
<circle cx="758.1" cy="1763.4" r="4.9"/>
<circle cx="377.0" cy="1711.7" r="4.9"/>
<circle cx="669.6" cy="1365.4" r="4.9"/>
<circle cx="716.3" cy="1655.4" r="4.9"/>
<circle cx="588.6" cy="1709.3" r="4.9"/>
<circle cx="807.7" cy="1517.8" r="4.9"/>
<circle cx="257.1" cy="1657.8" r="4.9"/>
<circle cx="453.0" cy="1544.8" r="4.9"/>
<circle cx="453.0" cy="1623.2" r="4.9"/>
<circle cx="497.0" cy="1650.1" r="4.9"/>
<circle cx="617.3" cy="1411.6" r="4.9"/>
<circle cx="763.4" cy="1495.6" r="4.9"/>
<circle cx="496.6" cy="1554.3" r="4.9"/>
<circle cx="847.1" cy="1370.3" r="4.9"/>
<circle cx="967.0" cy="1370.3" r="4.9"/>
<circle cx="838.4" cy="1409.6" r="4.9"/>
<circle cx="356.1" cy="1704.5" r="4.9"/>
<circle cx="648.7" cy="1704.5" r="4.9"/>
<circle cx="802.5" cy="1466.0" r="4.9"/>
<circle cx="818.1" cy="1407.1" r="4.9"/>
<circle cx="846.8" cy="1407.1" r="4.9"/>
<circle cx="536.3" cy="1701.7" r="4.9"/>
<circle cx="896.7" cy="1404.6" r="4.9"/>
<circle cx="708.7" cy="1375.4" r="4.9"/>
<circle cx="818.1" cy="1375.4" r="4.9"/>
<circle cx="1050.4" cy="1375.4" r="4.9"/>
<circle cx="460.7" cy="1650.3" r="4.9"/>
<circle cx="489.3" cy="1532.3" r="4.9"/>
<circle cx="507.5" cy="1699.3" r="4.9"/>
<circle cx="487.7" cy="1527.5" r="4.9"/>
<circle cx="217.9" cy="1667.5" r="4.9"/>
<circle cx="1060.9" cy="1667.5" r="4.9"/>
<circle cx="797.2" cy="1513.0" r="4.9"/>
<circle cx="797.2" cy="1532.3" r="4.9"/>
<circle cx="988.0" cy="1377.8" r="4.9"/>
<circle cx="1076.7" cy="1377.8" r="4.9"/>
<circle cx="416.4" cy="1696.9" r="4.9"/>
<circle cx="447.6" cy="1696.9" r="4.9"/>
<circle cx="486.6" cy="1521.8" r="4.9"/>
<circle cx="486.6" cy="1657.8" r="4.9"/>
<circle cx="176.1" cy="1807.5" r="4.9"/>
<circle cx="959.2" cy="1399.8" r="4.9"/>
<circle cx="395.3" cy="1670.2" r="4.9"/>
<circle cx="465.8" cy="1463.9" r="4.9"/>
<circle cx="465.8" cy="1702.1" r="4.9"/>
<circle cx="677.3" cy="1397.4" r="4.9"/>
<circle cx="792.1" cy="1478.4" r="4.9"/>
<circle cx="1089.3" cy="1178.7" r="4.9"/>
<circle cx="779.1" cy="1409.6" r="4.9"/>
<circle cx="690.5" cy="1384.7" r="4.9"/>
<circle cx="818.1" cy="1395.0" r="4.9"/>
<circle cx="867.7" cy="1395.0" r="4.9"/>
<circle cx="204.7" cy="1675.1" r="4.9"/>
<circle cx="888.2" cy="1385.5" r="4.9"/>
<circle cx="471.0" cy="1564.5" r="4.9"/>
<circle cx="889.8" cy="1386.7" r="4.9"/>
<circle cx="460.7" cy="1677.2" r="4.9"/>
<circle cx="867.7" cy="1677.2" r="4.9"/>
<circle cx="716.3" cy="1392.2" r="4.9"/>
<circle cx="786.9" cy="1382.3" r="4.9"/>
<circle cx="473.6" cy="1613.2" r="4.9"/>
<circle cx="476.4" cy="1638.0" r="4.9"/>
<circle cx="165.2" cy="1804.5" r="4.9"/>
<circle cx="166.1" cy="1849.8" r="4.9"/>
<circle cx="758.1" cy="1389.6" r="4.9"/>
</g></g>
<g>
<clipPath id="c4a"><rect x="1266.4" y="1099.9" width="918.2" height="895.5"/></clipPath>
<rect x="1266.4" y="1099.9" width="918.2" height="895.5" fill="#eaeaf2"/>
<g class="g">
<line class="v" x1="1372.2" y1="1099.9" x2="1372.2" y2="1995.4"/>
<line class="v" x1="1486.2" y1="1099.9" x2="1486.2" y2="1995.4"/>
<line class="v" x1="1601.4" y1="1099.9" x2="1601.4" y2="1995.4"/>
<line class="v" x1="1713.7" y1="1099.9" x2="1713.7" y2="1995.4"/>
<line class="v" x1="1829.2" y1="1099.9" x2="1829.2" y2="1995.4"/>
<line class="v" x1="1943.9" y1="1099.9" x2="1943.9" y2="1995.4"/>
<line class="v" x1="2055.9" y1="1099.9" x2="2055.9" y2="1995.4"/>
<line class="v" x1="2170.5" y1="1099.9" x2="2170.5" y2="1995.4"/>
<line x1="1266.4" y1="1890.9" x2="2184.6" y2="1890.9"/>
<line x1="1266.4" y1="1781.1" x2="2184.6" y2="1781.1"/>
<line x1="1266.4" y1="1670.7" x2="2184.6" y2="1670.7"/>
<line x1="1266.4" y1="1559.3" x2="2184.6" y2="1559.3"/>
<line x1="1266.4" y1="1446.5" x2="2184.6" y2="1446.5"/>
<line x1="1266.4" y1="1335.6" x2="2184.6" y2="1335.6"/>
<line x1="1266.4" y1="1225.4" x2="2184.6" y2="1225.4"/>
<line x1="1266.4" y1="1115.1" x2="2184.6" y2="1115.1"/>
</g>
<g class="d" clip-path="url(#c4a)">
<circle cx="1716.2" cy="1532.3" r="4.9"/>
<circle cx="2057.9" cy="1251.5" r="4.9"/>
<circle cx="1734.2" cy="1544.7" r="4.9"/>
<circle cx="2050.3" cy="1254.8" r="4.9"/>
<circle cx="1750.0" cy="1534.7" r="4.9"/>
<circle cx="1431.8" cy="1819.6" r="4.9"/>
<circle cx="2063.5" cy="1246.8" r="4.9"/>
<circle cx="1434.3" cy="1551.9" r="4.9"/>
<circle cx="1392.5" cy="1829.7" r="4.9"/>
<circle cx="2068.8" cy="1232.6" r="4.9"/>
<circle cx="1742.2" cy="1554.0" r="4.9"/>
<circle cx="2055.9" cy="1224.9" r="4.9"/>
<circle cx="1742.2" cy="1558.8" r="4.9"/>
<circle cx="1700.4" cy="1559.3" r="4.9"/>
<circle cx="1716.2" cy="1562.1" r="4.9"/>
<circle cx="2084.4" cy="1556.9" r="4.9"/>
<circle cx="1742.2" cy="1500.4" r="4.9"/>
<circle cx="1734.2" cy="1571.7" r="4.9"/>
<circle cx="1682.4" cy="1497.7" r="4.9"/>
<circle cx="1682.4" cy="1558.5" r="4.9"/>
<circle cx="1682.4" cy="1562.9" r="4.9"/>
<circle cx="1682.4" cy="1567.7" r="4.9"/>
<circle cx="2032.1" cy="1284.1" r="4.9"/>
<circle cx="1418.6" cy="1576.5" r="4.9"/>
<circle cx="1784.1" cy="1579.0" r="4.9"/>
<circle cx="2042.6" cy="1291.7" r="4.9"/>
<circle cx="1671.9" cy="1519.9" r="4.9"/>
<circle cx="1689.9" cy="1584.1" r="4.9"/>
<circle cx="1673.8" cy="1585.9" r="4.9"/>
<circle cx="1696.4" cy="1586.2" r="4.9"/>
<circle cx="1726.6" cy="1777.9" r="4.9"/>
<circle cx="1675.4" cy="1587.5" r="4.9"/>
<circle cx="1977.4" cy="1527.5" r="4.9"/>
<circle cx="1666.6" cy="1294.3" r="4.9"/>
<circle cx="1666.6" cy="1549.5" r="4.9"/>
<circle cx="1666.6" cy="1562.1" r="4.9"/>
<circle cx="1415.8" cy="1776.1" r="4.9"/>
<circle cx="1789.4" cy="1589.1" r="4.9"/>
<circle cx="2105.4" cy="1274.2" r="4.9"/>
<circle cx="1664.2" cy="1492.8" r="4.9"/>
<circle cx="2008.5" cy="1301.0" r="4.9"/>
<circle cx="1760.7" cy="1593.8" r="4.9"/>
<circle cx="1374.3" cy="1770.6" r="4.9"/>
<circle cx="1405.4" cy="1770.6" r="4.9"/>
<circle cx="1419.0" cy="1770.1" r="4.9"/>
<circle cx="1802.3" cy="1488.0" r="4.9"/>
<circle cx="1685.1" cy="1598.8" r="4.9"/>
<circle cx="1656.1" cy="1547.1" r="4.9"/>
<circle cx="1656.1" cy="1593.8" r="4.9"/>
<circle cx="1755.1" cy="1601.5" r="4.9"/>
<circle cx="1794.5" cy="1601.5" r="4.9"/>
<circle cx="1653.4" cy="1525.0" r="4.9"/>
<circle cx="1653.4" cy="1601.2" r="4.9"/>
<circle cx="1776.5" cy="1466.3" r="4.9"/>
<circle cx="2008.5" cy="1313.9" r="4.9"/>
<circle cx="1810.3" cy="1478.0" r="4.9"/>
<circle cx="1810.3" cy="1505.2" r="4.9"/>
<circle cx="1810.3" cy="1515.1" r="4.9"/>
<circle cx="1669.3" cy="1606.0" r="4.9"/>
<circle cx="1768.3" cy="1463.6" r="4.9"/>
<circle cx="1956.5" cy="1306.2" r="4.9"/>
<circle cx="1656.1" cy="1321.2" r="4.9"/>
<circle cx="1700.4" cy="1611.2" r="4.9"/>
<circle cx="1802.6" cy="1456.3" r="4.9"/>
<circle cx="1418.6" cy="1750.8" r="4.9"/>
<circle cx="1820.6" cy="1483.2" r="4.9"/>
<circle cx="1794.5" cy="1453.9" r="4.9"/>
<circle cx="2050.3" cy="1326.3" r="4.9"/>
<circle cx="2021.6" cy="1328.4" r="4.9"/>
<circle cx="1819.5" cy="1451.0" r="4.9"/>
<circle cx="1974.6" cy="1330.8" r="4.9"/>
<circle cx="1998.3" cy="1620.8" r="4.9"/>
<circle cx="1825.9" cy="1451.5" r="4.9"/>
<circle cx="1418.6" cy="1743.6" r="4.9"/>
<circle cx="2008.5" cy="1333.6" r="4.9"/>
<circle cx="1828.7" cy="1473.2" r="4.9"/>
<circle cx="1829.2" cy="1455.3" r="4.9"/>
<circle cx="1721.3" cy="1336.0" r="4.9"/>
<circle cx="1742.2" cy="1336.0" r="4.9"/>
<circle cx="1985.4" cy="1336.0" r="4.9"/>
<circle cx="1831.2" cy="1473.2" r="4.9"/>
<circle cx="1937.9" cy="1456.3" r="4.9"/>
<circle cx="2050.3" cy="1628.4" r="4.9"/>
<circle cx="1820.6" cy="1441.3" r="4.9"/>
<circle cx="1982.2" cy="1340.8" r="4.9"/>
<circle cx="1632.8" cy="1630.8" r="4.9"/>
<circle cx="1674.6" cy="1630.8" r="4.9"/>
<circle cx="1797.0" cy="1438.9" r="4.9"/>
<circle cx="1836.4" cy="1441.3" r="4.9"/>
<circle cx="1836.4" cy="1556.9" r="4.9"/>
<circle cx="1622.3" cy="1586.2" r="4.9"/>
<circle cx="1734.2" cy="1633.4" r="4.9"/>
<circle cx="1752.7" cy="1633.4" r="4.9"/>
<circle cx="1820.6" cy="1633.4" r="4.9"/>
<circle cx="1460.4" cy="1731.5" r="4.9"/>
<circle cx="1619.9" cy="1603.6" r="4.9"/>
<circle cx="1666.6" cy="1635.6" r="4.9"/>
<circle cx="1974.6" cy="1345.8" r="4.9"/>
<circle cx="1617.2" cy="1549.5" r="4.9"/>
<circle cx="1937.9" cy="1348.0" r="4.9"/>
<circle cx="1998.3" cy="1350.5" r="4.9"/>
<circle cx="1643.2" cy="1640.5" r="4.9"/>
<circle cx="1713.7" cy="1640.5" r="4.9"/>
<circle cx="1444.6" cy="1723.9" r="4.9"/>
<circle cx="1948.7" cy="1424.4" r="4.9"/>
<circle cx="1609.1" cy="1554.3" r="4.9"/>
<circle cx="1374.3" cy="1719.1" r="4.9"/>
<circle cx="1512.4" cy="1719.1" r="4.9"/>
<circle cx="1852.0" cy="1544.8" r="4.9"/>
<circle cx="1628.8" cy="1647.7" r="4.9"/>
<circle cx="2163.0" cy="1254.8" r="4.9"/>
<circle cx="1964.2" cy="1358.2" r="4.9"/>
<circle cx="1606.7" cy="1603.6" r="4.9"/>
<circle cx="1478.4" cy="1716.7" r="4.9"/>
<circle cx="1487.0" cy="1716.7" r="4.9"/>
<circle cx="1854.6" cy="1529.9" r="4.9"/>
<circle cx="1678.3" cy="1649.8" r="4.9"/>
<circle cx="1922.3" cy="1360.3" r="4.9"/>
<circle cx="1937.9" cy="1360.6" r="4.9"/>
<circle cx="2003.6" cy="1360.6" r="4.9"/>
<circle cx="2050.3" cy="1360.6" r="4.9"/>
<circle cx="1836.9" cy="1419.1" r="4.9"/>
<circle cx="1546.2" cy="1612.4" r="4.9"/>
<circle cx="1546.2" cy="1616.8" r="4.9"/>
<circle cx="1546.2" cy="1621.3" r="4.9"/>
<circle cx="1679.9" cy="1651.7" r="4.9"/>
<circle cx="1632.0" cy="1652.2" r="4.9"/>
<circle cx="1835.9" cy="1417.7" r="4.9"/>
<circle cx="1418.6" cy="1711.4" r="4.9"/>
<circle cx="2170.5" cy="1316.3" r="4.9"/>
<circle cx="1862.5" cy="1296.5" r="4.9"/>
<circle cx="1862.5" cy="1434.1" r="4.9"/>
<circle cx="1862.5" cy="1490.8" r="4.9"/>
<circle cx="1622.3" cy="1657.8" r="4.9"/>
<circle cx="1911.4" cy="1368.6" r="4.9"/>
<circle cx="1340.5" cy="1660.3" r="4.9"/>
<circle cx="1421.3" cy="1660.3" r="4.9"/>
<circle cx="2074.0" cy="1409.6" r="4.9"/>
<circle cx="1904.1" cy="1367.8" r="4.9"/>
<circle cx="1904.1" cy="1566.6" r="4.9"/>
<circle cx="1916.7" cy="1372.2" r="4.9"/>
<circle cx="2177.8" cy="1313.9" r="4.9"/>
<circle cx="1867.8" cy="1482.9" r="4.9"/>
<circle cx="1844.4" cy="1701.7" r="4.9"/>
<circle cx="1706.0" cy="1375.1" r="4.9"/>
<circle cx="1514.8" cy="1665.1" r="4.9"/>
<circle cx="1666.6" cy="1665.1" r="4.9"/>
<circle cx="1870.2" cy="1452.6" r="4.9"/>
<circle cx="1870.2" cy="1456.6" r="4.9"/>
<circle cx="1870.2" cy="1461.0" r="4.9"/>
<circle cx="1922.3" cy="1404.8" r="4.9"/>
<circle cx="1913.0" cy="1375.9" r="4.9"/>
<circle cx="1562.3" cy="1662.2" r="4.9"/>
<circle cx="1562.3" cy="1666.7" r="4.9"/>
<circle cx="1382.0" cy="1401.9" r="4.9"/>
<circle cx="2186.4" cy="1305.9" r="4.9"/>
<circle cx="1486.2" cy="1669.6" r="4.9"/>
<circle cx="1789.2" cy="1379.9" r="4.9"/>
<circle cx="1520.8" cy="1669.9" r="4.9"/>
<circle cx="1496.6" cy="1669.9" r="4.9"/>
<circle cx="1588.2" cy="1669.9" r="4.9"/>
<circle cx="1601.4" cy="1399.8" r="4.9"/>
<circle cx="2058.4" cy="1380.2" r="4.9"/>
<circle cx="1893.7" cy="1404.8" r="4.9"/>
<circle cx="1706.0" cy="1692.1" r="4.9"/>
<circle cx="1878.2" cy="1377.5" r="4.9"/>
<circle cx="1878.2" cy="1471.1" r="4.9"/>
<circle cx="1878.2" cy="1503.3" r="4.9"/>
<circle cx="1878.2" cy="1574.1" r="4.9"/>
<circle cx="1580.9" cy="1598.8" r="4.9"/>
<circle cx="1580.8" cy="1711.7" r="4.9"/>
<circle cx="1486.2" cy="1674.7" r="4.9"/>
<circle cx="2021.6" cy="1674.7" r="4.9"/>
<circle cx="1896.1" cy="1395.0" r="4.9"/>
<circle cx="1974.2" cy="1395.0" r="4.9"/>
<circle cx="1983.0" cy="1395.0" r="4.9"/>
<circle cx="1888.5" cy="1436.5" r="4.9"/>
<circle cx="1888.5" cy="1586.5" r="4.9"/>
<circle cx="1870.2" cy="1387.2" r="4.9"/>
<circle cx="2102.6" cy="1387.2" r="4.9"/>
<circle cx="1512.2" cy="1677.2" r="4.9"/>
<circle cx="2008.5" cy="1677.2" r="4.9"/>
<circle cx="1572.6" cy="1618.4" r="4.9"/>
<circle cx="1572.6" cy="1633.4" r="4.9"/>
<circle cx="1935.5" cy="1392.2" r="4.9"/>
<circle cx="1291.1" cy="1687.2" r="4.9"/>
<circle cx="1265.7" cy="1581.4" r="4.9"/>
<circle cx="1726.6" cy="1679.6" r="4.9"/>
<circle cx="1580.8" cy="1684.8" r="4.9"/>
<circle cx="1773.6" cy="1681.9" r="4.9"/>
</g></g>
</g>
<g opacity="0.5">
<g>
<clipPath id="c1b"><rect x="166.4" y="55.0" width="921.7" height="894.2"/></clipPath>
<rect x="166.4" y="55.0" width="921.7" height="894.2" fill="#eaeaf2"/>
<g class="g">
<line class="v" x1="227.9" y1="55.0" x2="227.9" y2="949.2"/>
<line class="v" x1="354.0" y1="55.0" x2="354.0" y2="949.2"/>
<line class="v" x1="478.9" y1="55.0" x2="478.9" y2="949.2"/>
<line class="v" x1="603.9" y1="55.0" x2="603.9" y2="949.2"/>
<line class="v" x1="732.0" y1="55.0" x2="732.0" y2="949.2"/>
<line class="v" x1="858.1" y1="55.0" x2="858.1" y2="949.2"/>
<line class="v" x1="982.5" y1="55.0" x2="982.5" y2="949.2"/>
<line x1="166.4" y1="889.0" x2="1088.1" y2="889.0"/>
<line x1="166.4" y1="767.8" x2="1088.1" y2="767.8"/>
<line x1="166.4" y1="645.5" x2="1088.1" y2="645.5"/>
<line x1="166.4" y1="523.5" x2="1088.1" y2="523.5"/>
<line x1="166.4" y1="402.5" x2="1088.1" y2="402.5"/>
<line x1="166.4" y1="279.7" x2="1088.1" y2="279.7"/>
<line x1="166.4" y1="157.0" x2="1088.1" y2="157.0"/>
</g>
<g class="d" clip-path="url(#c1b)">
<circle cx="635.5" cy="491.3" r="4.9"/>
<circle cx="635.5" cy="488.1" r="4.9"/>
<circle cx="617.3" cy="495.8" r="4.9"/>
<circle cx="645.9" cy="486.2" r="4.9"/>
<circle cx="337.9" cy="790.7" r="4.9"/>
<circle cx="956.7" cy="208.6" r="4.9"/>
<circle cx="951.4" cy="505.8" r="4.9"/>
<circle cx="324.7" cy="508.2" r="4.9"/>
<circle cx="948.7" cy="218.7" r="4.9"/>
<circle cx="598.8" cy="498.6" r="4.9"/>
<circle cx="972.4" cy="179.1" r="4.9"/>
<circle cx="972.4" cy="208.6" r="4.9"/>
<circle cx="617.3" cy="513.4" r="4.9"/>
<circle cx="928.1" cy="225.5" r="4.9"/>
<circle cx="283.1" cy="800.5" r="4.9"/>
<circle cx="956.7" cy="233.2" r="4.9"/>
<circle cx="588.6" cy="525.1" r="4.9"/>
<circle cx="985.2" cy="461.5" r="4.9"/>
<circle cx="988.0" cy="218.5" r="4.9"/>
<circle cx="948.7" cy="241.1" r="4.9"/>
<circle cx="277.8" cy="830.1" r="4.9"/>
<circle cx="685.2" cy="464.3" r="4.9"/>
<circle cx="588.6" cy="535.3" r="4.9"/>
<circle cx="682.5" cy="444.6" r="4.9"/>
<circle cx="995.7" cy="182.0" r="4.9"/>
<circle cx="995.7" cy="238.0" r="4.9"/>
<circle cx="578.2" cy="537.5" r="4.9"/>
<circle cx="674.7" cy="537.5" r="4.9"/>
<circle cx="609.6" cy="537.7" r="4.9"/>
<circle cx="995.7" cy="248.0" r="4.9"/>
<circle cx="904.4" cy="441.9" r="4.9"/>
<circle cx="998.4" cy="174.3" r="4.9"/>
<circle cx="880.9" cy="520.6" r="4.9"/>
<circle cx="335.5" cy="540.4" r="4.9"/>
<circle cx="259.5" cy="530.4" r="4.9"/>
<circle cx="627.7" cy="437.1" r="4.9"/>
<circle cx="692.9" cy="449.5" r="4.9"/>
<circle cx="692.9" cy="483.6" r="4.9"/>
<circle cx="324.7" cy="731.9" r="4.9"/>
<circle cx="1003.4" cy="232.7" r="4.9"/>
<circle cx="901.9" cy="255.2" r="4.9"/>
<circle cx="570.1" cy="545.2" r="4.9"/>
<circle cx="570.1" cy="547.6" r="4.9"/>
<circle cx="251.8" cy="805.1" r="4.9"/>
<circle cx="259.5" cy="844.7" r="4.9"/>
<circle cx="364.1" cy="724.3" r="4.9"/>
<circle cx="588.6" cy="427.4" r="4.9"/>
<circle cx="392.9" cy="468.8" r="4.9"/>
<circle cx="392.9" cy="552.5" r="4.9"/>
<circle cx="702.9" cy="427.7" r="4.9"/>
<circle cx="246.9" cy="522.7" r="4.9"/>
<circle cx="1014.2" cy="232.7" r="4.9"/>
<circle cx="316.9" cy="554.9" r="4.9"/>
<circle cx="985.2" cy="134.8" r="4.9"/>
<circle cx="335.5" cy="719.5" r="4.9"/>
<circle cx="862.6" cy="449.5" r="4.9"/>
<circle cx="862.6" cy="505.8" r="4.9"/>
<circle cx="880.9" cy="422.4" r="4.9"/>
<circle cx="241.3" cy="525.6" r="4.9"/>
<circle cx="1019.4" cy="142.6" r="4.9"/>
<circle cx="580.6" cy="559.7" r="4.9"/>
<circle cx="692.9" cy="419.7" r="4.9"/>
<circle cx="353.6" cy="714.4" r="4.9"/>
<circle cx="711.0" cy="424.8" r="4.9"/>
<circle cx="1022.3" cy="238.0" r="4.9"/>
<circle cx="236.1" cy="820.1" r="4.9"/>
<circle cx="685.2" cy="564.5" r="4.9"/>
<circle cx="891.4" cy="274.9" r="4.9"/>
<circle cx="862.6" cy="414.8" r="4.9"/>
<circle cx="335.5" cy="709.5" r="4.9"/>
<circle cx="324.7" cy="707.1" r="4.9"/>
<circle cx="541.6" cy="554.9" r="4.9"/>
<circle cx="719.2" cy="493.7" r="4.9"/>
<circle cx="230.8" cy="731.6" r="4.9"/>
<circle cx="230.8" cy="744.1" r="4.9"/>
<circle cx="230.8" cy="776.2" r="4.9"/>
<circle cx="873.0" cy="279.9" r="4.9"/>
<circle cx="241.3" cy="410.0" r="4.9"/>
<circle cx="382.5" cy="704.5" r="4.9"/>
<circle cx="411.1" cy="486.5" r="4.9"/>
<circle cx="364.1" cy="702.1" r="4.9"/>
<circle cx="413.5" cy="562.5" r="4.9"/>
<circle cx="277.8" cy="574.5" r="4.9"/>
<circle cx="580.6" cy="574.5" r="4.9"/>
<circle cx="580.6" cy="405.2" r="4.9"/>
<circle cx="533.6" cy="461.5" r="4.9"/>
<circle cx="570.1" cy="577.1" r="4.9"/>
<circle cx="656.4" cy="577.1" r="4.9"/>
<circle cx="222.8" cy="765.9" r="4.9"/>
<circle cx="1037.5" cy="137.4" r="4.9"/>
<circle cx="335.5" cy="402.5" r="4.9"/>
<circle cx="721.4" cy="402.0" r="4.9"/>
<circle cx="316.9" cy="697.0" r="4.9"/>
<circle cx="533.6" cy="579.4" r="4.9"/>
<circle cx="839.1" cy="454.3" r="4.9"/>
<circle cx="421.6" cy="473.9" r="4.9"/>
<circle cx="536.3" cy="581.9" r="4.9"/>
<circle cx="732.1" cy="483.6" r="4.9"/>
<circle cx="674.7" cy="397.5" r="4.9"/>
<circle cx="721.9" cy="692.5" r="4.9"/>
<circle cx="1042.9" cy="272.6" r="4.9"/>
<circle cx="721.4" cy="397.1" r="4.9"/>
<circle cx="604.4" cy="690.2" r="4.9"/>
<circle cx="833.9" cy="432.2" r="4.9"/>
<circle cx="833.9" cy="574.5" r="4.9"/>
<circle cx="732.1" cy="299.5" r="4.9"/>
<circle cx="609.6" cy="589.5" r="4.9"/>
<circle cx="739.6" cy="422.4" r="4.9"/>
<circle cx="739.6" cy="439.5" r="4.9"/>
<circle cx="732.1" cy="387.8" r="4.9"/>
<circle cx="990.5" cy="387.8" r="4.9"/>
<circle cx="826.4" cy="279.4" r="4.9"/>
<circle cx="826.4" cy="387.8" r="4.9"/>
<circle cx="826.4" cy="400.4" r="4.9"/>
<circle cx="826.4" cy="427.4" r="4.9"/>
<circle cx="826.4" cy="304.0" r="4.9"/>
<circle cx="708.6" cy="385.6" r="4.9"/>
<circle cx="515.6" cy="567.3" r="4.9"/>
<circle cx="745.3" cy="419.7" r="4.9"/>
<circle cx="826.4" cy="306.7" r="4.9"/>
<circle cx="533.6" cy="599.2" r="4.9"/>
<circle cx="967.0" cy="380.6" r="4.9"/>
<circle cx="510.2" cy="552.5" r="4.9"/>
<circle cx="570.1" cy="675.2" r="4.9"/>
<circle cx="750.1" cy="401.6" r="4.9"/>
<circle cx="1060.9" cy="221.1" r="4.9"/>
<circle cx="1061.2" cy="223.0" r="4.9"/>
<circle cx="523.4" cy="378.1" r="4.9"/>
<circle cx="753.3" cy="446.7" r="4.9"/>
<circle cx="966.7" cy="314.0" r="4.9"/>
<circle cx="815.7" cy="287.1" r="4.9"/>
<circle cx="505.1" cy="527.8" r="4.9"/>
<circle cx="505.1" cy="537.7" r="4.9"/>
<circle cx="194.3" cy="540.4" r="4.9"/>
<circle cx="541.6" cy="606.7" r="4.9"/>
<circle cx="421.6" cy="668.0" r="4.9"/>
<circle cx="447.6" cy="468.8" r="4.9"/>
<circle cx="757.6" cy="400.4" r="4.9"/>
<circle cx="447.6" cy="714.7" r="4.9"/>
<circle cx="891.4" cy="318.8" r="4.9"/>
<circle cx="372.0" cy="665.3" r="4.9"/>
<circle cx="499.8" cy="405.2" r="4.9"/>
<circle cx="447.6" cy="611.5" r="4.9"/>
<circle cx="573.0" cy="611.5" r="4.9"/>
<circle cx="975.1" cy="321.7" r="4.9"/>
<circle cx="805.3" cy="316.9" r="4.9"/>
<circle cx="494.6" cy="468.8" r="4.9"/>
<circle cx="183.8" cy="604.0" r="4.9"/>
<circle cx="948.7" cy="326.5" r="4.9"/>
<circle cx="768.9" cy="380.2" r="4.9"/>
<circle cx="768.9" cy="419.7" r="4.9"/>
<circle cx="1009.1" cy="329.0" r="4.9"/>
<circle cx="382.1" cy="621.2" r="4.9"/>
<circle cx="598.8" cy="331.4" r="4.9"/>
<circle cx="797.4" cy="306.7" r="4.9"/>
<circle cx="797.4" cy="360.9" r="4.9"/>
<circle cx="486.9" cy="567.3" r="4.9"/>
<circle cx="486.9" cy="586.8" r="4.9"/>
<circle cx="463.4" cy="653.0" r="4.9"/>
<circle cx="353.6" cy="623.6" r="4.9"/>
<circle cx="635.5" cy="623.6" r="4.9"/>
<circle cx="176.1" cy="424.8" r="4.9"/>
<circle cx="833.9" cy="356.1" r="4.9"/>
<circle cx="862.6" cy="356.1" r="4.9"/>
<circle cx="465.8" cy="550.1" r="4.9"/>
<circle cx="484.2" cy="471.5" r="4.9"/>
<circle cx="938.6" cy="336.2" r="4.9"/>
<circle cx="486.9" cy="626.2" r="4.9"/>
<circle cx="716.3" cy="353.7" r="4.9"/>
<circle cx="826.4" cy="353.7" r="4.9"/>
<circle cx="873.0" cy="353.7" r="4.9"/>
<circle cx="995.7" cy="336.5" r="4.9"/>
<circle cx="468.2" cy="424.8" r="4.9"/>
<circle cx="468.2" cy="584.7" r="4.9"/>
<circle cx="1090.2" cy="152.4" r="4.9"/>
<circle cx="481.6" cy="668.0" r="4.9"/>
<circle cx="405.8" cy="628.6" r="4.9"/>
<circle cx="815.7" cy="351.3" r="4.9"/>
<circle cx="779.1" cy="331.4" r="4.9"/>
<circle cx="779.1" cy="392.6" r="4.9"/>
<circle cx="909.6" cy="339.7" r="4.9"/>
<circle cx="471.0" cy="515.8" r="4.9"/>
<circle cx="505.1" cy="631.0" r="4.9"/>
<circle cx="768.9" cy="348.5" r="4.9"/>
<circle cx="220.4" cy="643.0" r="4.9"/>
<circle cx="786.9" cy="405.2" r="4.9"/>
<circle cx="786.9" cy="414.8" r="4.9"/>
<circle cx="166.2" cy="542.5" r="4.9"/>
<circle cx="912.0" cy="346.4" r="4.9"/>
<circle cx="975.1" cy="346.4" r="4.9"/>
<circle cx="364.1" cy="641.0" r="4.9"/>
<circle cx="494.6" cy="641.0" r="4.9"/>
<circle cx="833.9" cy="344.2" r="4.9"/>
</g></g>
<g>
<clipPath id="c2b"><rect x="1266.3" y="55.0" width="918.2" height="894.2"/></clipPath>
<rect x="1266.3" y="55.0" width="918.2" height="894.2" fill="#eaeaf2"/>
<g class="g">
<line class="v" x1="1280.1" y1="55.0" x2="1280.1" y2="949.2"/>
<line class="v" x1="1418.1" y1="55.0" x2="1418.1" y2="949.2"/>
<line class="v" x1="1557.0" y1="55.0" x2="1557.0" y2="949.2"/>
<line class="v" x1="1695.6" y1="55.0" x2="1695.6" y2="949.2"/>
<line class="v" x1="1833.7" y1="55.0" x2="1833.7" y2="949.2"/>
<line class="v" x1="1972.1" y1="55.0" x2="1972.1" y2="949.2"/>
<line class="v" x1="2110.2" y1="55.0" x2="2110.2" y2="949.2"/>
<line x1="1266.3" y1="933.6" x2="2184.5" y2="933.6"/>
<line x1="1266.3" y1="798.9" x2="2184.5" y2="798.9"/>
<line x1="1266.3" y1="665.3" x2="2184.5" y2="665.3"/>
<line x1="1266.3" y1="531.1" x2="2184.5" y2="531.1"/>
<line x1="1266.3" y1="395.2" x2="2184.5" y2="395.2"/>
<line x1="1266.3" y1="262.7" x2="2184.5" y2="262.7"/>
<line x1="1266.3" y1="126.9" x2="2184.5" y2="126.9"/>
</g>
<g class="d" clip-path="url(#c2b)">
<circle cx="1732.1" cy="491.0" r="4.9"/>
<circle cx="2053.0" cy="206.1" r="4.9"/>
<circle cx="2063.5" cy="206.1" r="4.9"/>
<circle cx="1429.0" cy="505.8" r="4.9"/>
<circle cx="1423.9" cy="768.6" r="4.9"/>
<circle cx="1711.2" cy="510.6" r="4.9"/>
<circle cx="1397.6" cy="761.4" r="4.9"/>
<circle cx="2071.1" cy="171.9" r="4.9"/>
<circle cx="2003.5" cy="228.2" r="4.9"/>
<circle cx="1700.7" cy="518.2" r="4.9"/>
<circle cx="1455.3" cy="756.2" r="4.9"/>
<circle cx="2000.7" cy="461.5" r="4.9"/>
<circle cx="1397.6" cy="523.0" r="4.9"/>
<circle cx="2084.4" cy="202.9" r="4.9"/>
<circle cx="2084.4" cy="225.5" r="4.9"/>
<circle cx="2084.4" cy="520.6" r="4.9"/>
<circle cx="1711.2" cy="527.8" r="4.9"/>
<circle cx="1778.9" cy="505.5" r="4.9"/>
<circle cx="2089.7" cy="211.0" r="4.9"/>
<circle cx="1990.3" cy="510.3" r="4.9"/>
<circle cx="1757.8" cy="532.7" r="4.9"/>
<circle cx="1366.2" cy="749.0" r="4.9"/>
<circle cx="1700.7" cy="535.3" r="4.9"/>
<circle cx="1470.9" cy="444.6" r="4.9"/>
<circle cx="2063.5" cy="245.6" r="4.9"/>
<circle cx="1750.0" cy="535.6" r="4.9"/>
<circle cx="1671.9" cy="444.6" r="4.9"/>
<circle cx="1695.6" cy="439.5" r="4.9"/>
<circle cx="1669.3" cy="535.3" r="4.9"/>
<circle cx="1481.3" cy="817.7" r="4.9"/>
<circle cx="1791.8" cy="734.3" r="4.9"/>
<circle cx="2021.6" cy="255.2" r="4.9"/>
<circle cx="1679.9" cy="545.2" r="4.9"/>
<circle cx="1460.4" cy="729.2" r="4.9"/>
<circle cx="2042.6" cy="547.3" r="4.9"/>
<circle cx="2097.3" cy="257.6" r="4.9"/>
<circle cx="1700.7" cy="547.6" r="4.9"/>
<circle cx="1674.3" cy="550.1" r="4.9"/>
<circle cx="2105.0" cy="139.8" r="4.9"/>
<circle cx="1439.5" cy="724.3" r="4.9"/>
<circle cx="1659.0" cy="481.2" r="4.9"/>
<circle cx="1659.0" cy="523.0" r="4.9"/>
<circle cx="1348.9" cy="818.3" r="4.9"/>
<circle cx="2011.2" cy="262.2" r="4.9"/>
<circle cx="1802.3" cy="449.5" r="4.9"/>
<circle cx="1347.7" cy="817.2" r="4.9"/>
<circle cx="1802.3" cy="552.5" r="4.9"/>
<circle cx="1979.8" cy="264.9" r="4.9"/>
<circle cx="1681.9" cy="424.8" r="4.9"/>
<circle cx="1689.9" cy="424.8" r="4.9"/>
<circle cx="2011.2" cy="267.3" r="4.9"/>
<circle cx="2118.2" cy="491.0" r="4.9"/>
<circle cx="1711.2" cy="419.7" r="4.9"/>
<circle cx="1998.3" cy="419.7" r="4.9"/>
<circle cx="1387.2" cy="714.7" r="4.9"/>
<circle cx="1648.4" cy="557.3" r="4.9"/>
<circle cx="1685.1" cy="562.1" r="4.9"/>
<circle cx="1337.7" cy="761.4" r="4.9"/>
<circle cx="1337.7" cy="802.9" r="4.9"/>
<circle cx="1669.3" cy="564.9" r="4.9"/>
<circle cx="1470.9" cy="414.8" r="4.9"/>
<circle cx="2126.0" cy="790.7" r="4.9"/>
<circle cx="2128.7" cy="130.0" r="4.9"/>
<circle cx="2129.0" cy="493.4" r="4.9"/>
<circle cx="2105.0" cy="279.9" r="4.9"/>
<circle cx="2110.5" cy="120.0" r="4.9"/>
<circle cx="1812.7" cy="410.0" r="4.9"/>
<circle cx="1491.8" cy="704.7" r="4.9"/>
<circle cx="1979.8" cy="282.3" r="4.9"/>
<circle cx="1648.4" cy="572.3" r="4.9"/>
<circle cx="1512.4" cy="422.4" r="4.9"/>
<circle cx="1823.2" cy="498.6" r="4.9"/>
<circle cx="2134.0" cy="161.9" r="4.9"/>
<circle cx="1732.1" cy="574.5" r="4.9"/>
<circle cx="1640.3" cy="574.7" r="4.9"/>
<circle cx="1700.7" cy="405.2" r="4.9"/>
<circle cx="1745.1" cy="577.1" r="4.9"/>
<circle cx="1830.8" cy="424.8" r="4.9"/>
<circle cx="1969.3" cy="581.9" r="4.9"/>
<circle cx="1937.9" cy="414.5" r="4.9"/>
<circle cx="1937.9" cy="424.8" r="4.9"/>
<circle cx="1937.9" cy="500.6" r="4.9"/>
<circle cx="1937.9" cy="518.2" r="4.9"/>
<circle cx="1627.5" cy="535.3" r="4.9"/>
<circle cx="1470.9" cy="692.5" r="4.9"/>
<circle cx="1522.9" cy="493.7" r="4.9"/>
<circle cx="1523.2" cy="692.5" r="4.9"/>
<circle cx="1316.8" cy="697.5" r="4.9"/>
<circle cx="1316.8" cy="874.4" r="4.9"/>
<circle cx="1833.7" cy="449.5" r="4.9"/>
<circle cx="1792.1" cy="395.5" r="4.9"/>
<circle cx="1817.9" cy="395.5" r="4.9"/>
<circle cx="1935.5" cy="294.7" r="4.9"/>
<circle cx="1522.9" cy="395.2" r="4.9"/>
<circle cx="1426.6" cy="690.2" r="4.9"/>
<circle cx="1990.3" cy="296.3" r="4.9"/>
<circle cx="1833.7" cy="392.6" r="4.9"/>
<circle cx="1622.3" cy="581.9" r="4.9"/>
<circle cx="2000.7" cy="299.5" r="4.9"/>
<circle cx="2149.6" cy="132.6" r="4.9"/>
<circle cx="2032.1" cy="388.0" r="4.9"/>
<circle cx="1617.0" cy="537.7" r="4.9"/>
<circle cx="1617.0" cy="559.7" r="4.9"/>
<circle cx="1306.4" cy="869.2" r="4.9"/>
<circle cx="1995.6" cy="304.0" r="4.9"/>
<circle cx="1844.1" cy="414.8" r="4.9"/>
<circle cx="2084.4" cy="304.3" r="4.9"/>
<circle cx="1979.8" cy="306.7" r="4.9"/>
<circle cx="1449.9" cy="596.7" r="4.9"/>
<circle cx="2021.3" cy="383.0" r="4.9"/>
<circle cx="1502.3" cy="678.0" r="4.9"/>
<circle cx="1792.1" cy="382.7" r="4.9"/>
<circle cx="1781.2" cy="309.2" r="4.9"/>
<circle cx="1301.0" cy="675.2" r="4.9"/>
<circle cx="1948.4" cy="675.2" r="4.9"/>
<circle cx="2160.1" cy="100.7" r="4.9"/>
<circle cx="2160.1" cy="154.6" r="4.9"/>
<circle cx="1990.3" cy="311.6" r="4.9"/>
<circle cx="2094.9" cy="311.6" r="4.9"/>
<circle cx="1337.7" cy="601.6" r="4.9"/>
<circle cx="1512.7" cy="672.8" r="4.9"/>
<circle cx="1802.3" cy="672.8" r="4.9"/>
<circle cx="1917.0" cy="299.5" r="4.9"/>
<circle cx="1543.8" cy="540.4" r="4.9"/>
<circle cx="1927.5" cy="314.0" r="4.9"/>
<circle cx="1295.9" cy="707.4" r="4.9"/>
<circle cx="1295.9" cy="884.2" r="4.9"/>
<circle cx="1854.6" cy="304.3" r="4.9"/>
<circle cx="1854.6" cy="397.6" r="4.9"/>
<circle cx="1914.6" cy="412.4" r="4.9"/>
<circle cx="1293.3" cy="756.2" r="4.9"/>
<circle cx="1857.3" cy="550.1" r="4.9"/>
<circle cx="1601.4" cy="562.1" r="4.9"/>
<circle cx="1601.4" cy="581.9" r="4.9"/>
<circle cx="1909.3" cy="397.6" r="4.9"/>
<circle cx="1731.8" cy="321.5" r="4.9"/>
<circle cx="1948.4" cy="321.5" r="4.9"/>
<circle cx="1757.8" cy="611.5" r="4.9"/>
<circle cx="1551.7" cy="611.5" r="4.9"/>
<circle cx="1833.7" cy="368.2" r="4.9"/>
<circle cx="1862.5" cy="451.9" r="4.9"/>
<circle cx="1906.6" cy="318.8" r="4.9"/>
<circle cx="1596.6" cy="454.3" r="4.9"/>
<circle cx="1906.6" cy="449.5" r="4.9"/>
<circle cx="1906.6" cy="476.5" r="4.9"/>
<circle cx="2016.5" cy="323.6" r="4.9"/>
<circle cx="1659.0" cy="613.6" r="4.9"/>
<circle cx="1596.2" cy="665.6" r="4.9"/>
<circle cx="1332.4" cy="614.0" r="4.9"/>
<circle cx="1554.2" cy="424.8" r="4.9"/>
<circle cx="1595.8" cy="589.5" r="4.9"/>
<circle cx="1596.2" cy="660.8" r="4.9"/>
<circle cx="1864.9" cy="466.7" r="4.9"/>
<circle cx="1865.1" cy="260.1" r="4.9"/>
<circle cx="2175.7" cy="164.6" r="4.9"/>
<circle cx="1906.6" cy="363.7" r="4.9"/>
<circle cx="1937.9" cy="363.7" r="4.9"/>
<circle cx="1596.2" cy="616.4" r="4.9"/>
<circle cx="1282.9" cy="805.3" r="4.9"/>
<circle cx="1765.6" cy="655.6" r="4.9"/>
<circle cx="2180.7" cy="572.3" r="4.9"/>
<circle cx="1295.9" cy="653.0" r="4.9"/>
<circle cx="1441.9" cy="653.0" r="4.9"/>
<circle cx="2011.2" cy="334.1" r="4.9"/>
<circle cx="2186.0" cy="193.7" r="4.9"/>
<circle cx="2186.0" cy="287.1" r="4.9"/>
<circle cx="1896.1" cy="355.6" r="4.9"/>
<circle cx="1564.7" cy="621.4" r="4.9"/>
<circle cx="1275.0" cy="606.4" r="4.9"/>
<circle cx="1937.9" cy="354.8" r="4.9"/>
<circle cx="1875.5" cy="439.5" r="4.9"/>
<circle cx="2126.0" cy="336.2" r="4.9"/>
<circle cx="1543.8" cy="626.2" r="4.9"/>
<circle cx="1664.2" cy="626.2" r="4.9"/>
<circle cx="1750.0" cy="353.4" r="4.9"/>
<circle cx="1585.6" cy="648.4" r="4.9"/>
<circle cx="1491.8" cy="648.2" r="4.9"/>
<circle cx="1937.9" cy="352.1" r="4.9"/>
<circle cx="1922.3" cy="338.1" r="4.9"/>
<circle cx="1969.3" cy="338.6" r="4.9"/>
<circle cx="1891.3" cy="301.9" r="4.9"/>
<circle cx="1977.4" cy="350.9" r="4.9"/>
<circle cx="1896.1" cy="349.7" r="4.9"/>
<circle cx="1578.4" cy="574.5" r="4.9"/>
<circle cx="1265.6" cy="825.3" r="4.9"/>
<circle cx="2180.7" cy="56.1" r="4.9"/>
<circle cx="1886.1" cy="306.7" r="4.9"/>
<circle cx="1948.9" cy="346.1" r="4.9"/>
<circle cx="1886.1" cy="358.2" r="4.9"/>
<circle cx="1886.1" cy="360.9" r="4.9"/>
<circle cx="1886.1" cy="378.1" r="4.9"/>
<circle cx="1507.6" cy="641.1" r="4.9"/>
<circle cx="1922.3" cy="344.6" r="4.9"/>
<circle cx="1564.7" cy="638.5" r="4.9"/>
</g></g>
<g>
<clipPath id="c3b"><rect x="166.4" y="1099.9" width="921.6" height="895.6"/></clipPath>
<rect x="166.4" y="1099.9" width="921.6" height="895.6" fill="#eaeaf2"/>
<g class="g">
<line class="v" x1="181.7" y1="1099.9" x2="181.7" y2="1995.5"/>
<line class="v" x1="316.9" y1="1099.9" x2="316.9" y2="1995.5"/>
<line class="v" x1="450.2" y1="1099.9" x2="450.2" y2="1995.5"/>
<line class="v" x1="583.5" y1="1099.9" x2="583.5" y2="1995.5"/>
<line class="v" x1="716.0" y1="1099.9" x2="716.0" y2="1995.5"/>
<line class="v" x1="852.4" y1="1099.9" x2="852.4" y2="1995.5"/>
<line class="v" x1="985.6" y1="1099.9" x2="985.6" y2="1995.5"/>
<line x1="166.4" y1="1979.7" x2="1088.0" y2="1979.7"/>
<line x1="166.4" y1="1849.3" x2="1088.0" y2="1849.3"/>
<line x1="166.4" y1="1719.4" x2="1088.0" y2="1719.4"/>
<line x1="166.4" y1="1589.1" x2="1088.0" y2="1589.1"/>
<line x1="166.4" y1="1459.0" x2="1088.0" y2="1459.0"/>
<line x1="166.4" y1="1328.4" x2="1088.0" y2="1328.4"/>
<line x1="166.4" y1="1198.5" x2="1088.0" y2="1198.5"/>
</g>
<g class="d" clip-path="url(#c3b)">
<circle cx="927.8" cy="1247.1" r="4.9"/>
<circle cx="949.0" cy="1252.3" r="4.9"/>
<circle cx="938.6" cy="1259.7" r="4.9"/>
<circle cx="335.5" cy="1814.9" r="4.9"/>
<circle cx="656.4" cy="1539.8" r="4.9"/>
<circle cx="912.3" cy="1227.8" r="4.9"/>
<circle cx="969.6" cy="1529.9" r="4.9"/>
<circle cx="907.2" cy="1252.3" r="4.9"/>
<circle cx="596.4" cy="1525.0" r="4.9"/>
<circle cx="596.4" cy="1559.2" r="4.9"/>
<circle cx="617.3" cy="1559.2" r="4.9"/>
<circle cx="285.9" cy="1802.7" r="4.9"/>
<circle cx="306.5" cy="1799.9" r="4.9"/>
<circle cx="899.1" cy="1215.4" r="4.9"/>
<circle cx="356.1" cy="1861.6" r="4.9"/>
<circle cx="606.8" cy="1566.9" r="4.9"/>
<circle cx="982.8" cy="1225.4" r="4.9"/>
<circle cx="635.5" cy="1569.3" r="4.9"/>
<circle cx="275.4" cy="1861.6" r="4.9"/>
<circle cx="596.4" cy="1574.1" r="4.9"/>
<circle cx="296.3" cy="1495.7" r="4.9"/>
<circle cx="369.3" cy="1809.9" r="4.9"/>
<circle cx="977.5" cy="1205.6" r="4.9"/>
<circle cx="889.0" cy="1542.3" r="4.9"/>
<circle cx="356.1" cy="1576.5" r="4.9"/>
<circle cx="578.2" cy="1529.9" r="4.9"/>
<circle cx="990.5" cy="1787.8" r="4.9"/>
<circle cx="993.3" cy="1267.2" r="4.9"/>
<circle cx="264.9" cy="1859.0" r="4.9"/>
<circle cx="296.3" cy="1876.4" r="4.9"/>
<circle cx="894.0" cy="1291.7" r="4.9"/>
<circle cx="259.5" cy="1834.5" r="4.9"/>
<circle cx="335.5" cy="1586.5" r="4.9"/>
<circle cx="988.8" cy="1193.2" r="4.9"/>
<circle cx="996.2" cy="1193.2" r="4.9"/>
<circle cx="677.3" cy="1475.9" r="4.9"/>
<circle cx="249.3" cy="1881.2" r="4.9"/>
<circle cx="327.4" cy="1306.3" r="4.9"/>
<circle cx="317.3" cy="1768.2" r="4.9"/>
<circle cx="557.2" cy="1473.5" r="4.9"/>
<circle cx="557.2" cy="1535.0" r="4.9"/>
<circle cx="557.2" cy="1571.7" r="4.9"/>
<circle cx="585.6" cy="1598.8" r="4.9"/>
<circle cx="617.3" cy="1468.7" r="4.9"/>
<circle cx="708.7" cy="1482.7" r="4.9"/>
<circle cx="1019.4" cy="1272.1" r="4.9"/>
<circle cx="400.6" cy="1581.7" r="4.9"/>
<circle cx="711.0" cy="1483.7" r="4.9"/>
<circle cx="588.6" cy="1606.3" r="4.9"/>
<circle cx="648.2" cy="1463.6" r="4.9"/>
<circle cx="345.9" cy="1758.6" r="4.9"/>
<circle cx="403.1" cy="1269.6" r="4.9"/>
<circle cx="546.8" cy="1503.0" r="4.9"/>
<circle cx="708.6" cy="1461.0" r="4.9"/>
<circle cx="617.3" cy="1756.0" r="4.9"/>
<circle cx="405.8" cy="1478.7" r="4.9"/>
<circle cx="716.3" cy="1549.5" r="4.9"/>
<circle cx="408.7" cy="1468.4" r="4.9"/>
<circle cx="719.0" cy="1513.0" r="4.9"/>
<circle cx="546.8" cy="1616.0" r="4.9"/>
<circle cx="666.9" cy="1616.0" r="4.9"/>
<circle cx="868.0" cy="1328.1" r="4.9"/>
<circle cx="907.2" cy="1328.4" r="4.9"/>
<circle cx="379.7" cy="1618.4" r="4.9"/>
<circle cx="536.3" cy="1522.6" r="4.9"/>
<circle cx="536.3" cy="1569.3" r="4.9"/>
<circle cx="899.1" cy="1451.3" r="4.9"/>
<circle cx="1008.9" cy="1746.0" r="4.9"/>
<circle cx="844.4" cy="1328.4" r="4.9"/>
<circle cx="656.4" cy="1448.9" r="4.9"/>
<circle cx="416.4" cy="1743.9" r="4.9"/>
<circle cx="726.7" cy="1463.9" r="4.9"/>
<circle cx="726.7" cy="1584.1" r="4.9"/>
<circle cx="1037.5" cy="1316.3" r="4.9"/>
<circle cx="867.7" cy="1446.5" r="4.9"/>
<circle cx="556.9" cy="1623.9" r="4.9"/>
<circle cx="557.7" cy="1625.2" r="4.9"/>
<circle cx="839.1" cy="1498.0" r="4.9"/>
<circle cx="839.1" cy="1547.1" r="4.9"/>
<circle cx="857.3" cy="1336.0" r="4.9"/>
<circle cx="726.7" cy="1443.8" r="4.9"/>
<circle cx="528.8" cy="1607.9" r="4.9"/>
<circle cx="400.6" cy="1738.8" r="4.9"/>
<circle cx="528.3" cy="1613.6" r="4.9"/>
<circle cx="601.7" cy="1628.1" r="4.9"/>
<circle cx="836.3" cy="1321.2" r="4.9"/>
<circle cx="424.3" cy="1761.0" r="4.9"/>
<circle cx="215.2" cy="1903.3" r="4.9"/>
<circle cx="416.4" cy="1630.5" r="4.9"/>
<circle cx="405.8" cy="1630.8" r="4.9"/>
<circle cx="523.9" cy="1612.0" r="4.9"/>
<circle cx="426.7" cy="1309.1" r="4.9"/>
<circle cx="737.2" cy="1493.2" r="4.9"/>
<circle cx="215.2" cy="1927.9" r="4.9"/>
<circle cx="959.2" cy="1345.6" r="4.9"/>
<circle cx="578.2" cy="1635.6" r="4.9"/>
<circle cx="648.2" cy="1635.6" r="4.9"/>
<circle cx="317.3" cy="1728.8" r="4.9"/>
<circle cx="518.0" cy="1455.8" r="4.9"/>
<circle cx="518.0" cy="1513.0" r="4.9"/>
<circle cx="518.0" cy="1564.2" r="4.9"/>
<circle cx="413.8" cy="1638.0" r="4.9"/>
<circle cx="434.8" cy="1770.9" r="4.9"/>
<circle cx="938.6" cy="1350.5" r="4.9"/>
<circle cx="826.2" cy="1350.5" r="4.9"/>
<circle cx="878.5" cy="1350.5" r="4.9"/>
<circle cx="525.9" cy="1640.5" r="4.9"/>
<circle cx="677.3" cy="1640.5" r="4.9"/>
<circle cx="627.7" cy="1428.9" r="4.9"/>
<circle cx="748.0" cy="1455.8" r="4.9"/>
<circle cx="437.2" cy="1721.9" r="4.9"/>
<circle cx="382.5" cy="1721.5" r="4.9"/>
<circle cx="510.2" cy="1532.3" r="4.9"/>
<circle cx="844.4" cy="1355.0" r="4.9"/>
<circle cx="437.2" cy="1645.3" r="4.9"/>
<circle cx="212.8" cy="1940.3" r="4.9"/>
<circle cx="351.1" cy="1424.4" r="4.9"/>
<circle cx="507.5" cy="1488.0" r="4.9"/>
<circle cx="507.5" cy="1733.9" r="4.9"/>
<circle cx="197.0" cy="1517.8" r="4.9"/>
<circle cx="748.0" cy="1422.0" r="4.9"/>
<circle cx="839.2" cy="1359.0" r="4.9"/>
<circle cx="708.7" cy="1649.0" r="4.9"/>
<circle cx="503.8" cy="1554.3" r="4.9"/>
<circle cx="843.1" cy="1361.4" r="4.9"/>
<circle cx="878.5" cy="1363.0" r="4.9"/>
<circle cx="426.7" cy="1653.0" r="4.9"/>
<circle cx="867.7" cy="1416.9" r="4.9"/>
<circle cx="758.1" cy="1763.4" r="4.9"/>
<circle cx="377.0" cy="1711.7" r="4.9"/>
<circle cx="669.6" cy="1365.4" r="4.9"/>
<circle cx="716.3" cy="1655.4" r="4.9"/>
<circle cx="588.6" cy="1709.3" r="4.9"/>
<circle cx="807.7" cy="1517.8" r="4.9"/>
<circle cx="257.1" cy="1657.8" r="4.9"/>
<circle cx="453.0" cy="1544.8" r="4.9"/>
<circle cx="453.0" cy="1623.2" r="4.9"/>
<circle cx="497.0" cy="1650.1" r="4.9"/>
<circle cx="617.3" cy="1411.6" r="4.9"/>
<circle cx="763.4" cy="1495.6" r="4.9"/>
<circle cx="496.6" cy="1554.3" r="4.9"/>
<circle cx="847.1" cy="1370.3" r="4.9"/>
<circle cx="967.0" cy="1370.3" r="4.9"/>
<circle cx="838.4" cy="1409.6" r="4.9"/>
<circle cx="356.1" cy="1704.5" r="4.9"/>
<circle cx="648.7" cy="1704.5" r="4.9"/>
<circle cx="802.5" cy="1466.0" r="4.9"/>
<circle cx="818.1" cy="1407.1" r="4.9"/>
<circle cx="846.8" cy="1407.1" r="4.9"/>
<circle cx="536.3" cy="1701.7" r="4.9"/>
<circle cx="896.7" cy="1404.6" r="4.9"/>
<circle cx="708.7" cy="1375.4" r="4.9"/>
<circle cx="818.1" cy="1375.4" r="4.9"/>
<circle cx="1050.4" cy="1375.4" r="4.9"/>
<circle cx="460.7" cy="1650.3" r="4.9"/>
<circle cx="489.3" cy="1532.3" r="4.9"/>
<circle cx="507.5" cy="1699.3" r="4.9"/>
<circle cx="487.7" cy="1527.5" r="4.9"/>
<circle cx="217.9" cy="1667.5" r="4.9"/>
<circle cx="1060.9" cy="1667.5" r="4.9"/>
<circle cx="797.2" cy="1513.0" r="4.9"/>
<circle cx="797.2" cy="1532.3" r="4.9"/>
<circle cx="988.0" cy="1377.8" r="4.9"/>
<circle cx="1076.7" cy="1377.8" r="4.9"/>
<circle cx="416.4" cy="1696.9" r="4.9"/>
<circle cx="447.6" cy="1696.9" r="4.9"/>
<circle cx="486.6" cy="1521.8" r="4.9"/>
<circle cx="486.6" cy="1657.8" r="4.9"/>
<circle cx="176.1" cy="1807.5" r="4.9"/>
<circle cx="959.2" cy="1399.8" r="4.9"/>
<circle cx="395.3" cy="1670.2" r="4.9"/>
<circle cx="465.8" cy="1463.9" r="4.9"/>
<circle cx="465.8" cy="1702.1" r="4.9"/>
<circle cx="677.3" cy="1397.4" r="4.9"/>
<circle cx="792.1" cy="1478.4" r="4.9"/>
<circle cx="1089.3" cy="1178.7" r="4.9"/>
<circle cx="779.1" cy="1409.6" r="4.9"/>
<circle cx="690.5" cy="1384.7" r="4.9"/>
<circle cx="818.1" cy="1395.0" r="4.9"/>
<circle cx="867.7" cy="1395.0" r="4.9"/>
<circle cx="204.7" cy="1675.1" r="4.9"/>
<circle cx="888.2" cy="1385.5" r="4.9"/>
<circle cx="471.0" cy="1564.5" r="4.9"/>
<circle cx="889.8" cy="1386.7" r="4.9"/>
<circle cx="460.7" cy="1677.2" r="4.9"/>
<circle cx="867.7" cy="1677.2" r="4.9"/>
<circle cx="716.3" cy="1392.2" r="4.9"/>
<circle cx="786.9" cy="1382.3" r="4.9"/>
<circle cx="473.6" cy="1613.2" r="4.9"/>
<circle cx="476.4" cy="1638.0" r="4.9"/>
<circle cx="165.2" cy="1804.5" r="4.9"/>
<circle cx="166.1" cy="1849.8" r="4.9"/>
<circle cx="758.1" cy="1389.6" r="4.9"/>
</g></g>
<g>
<clipPath id="c4b"><rect x="1266.4" y="1099.9" width="918.2" height="895.5"/></clipPath>
<rect x="1266.4" y="1099.9" width="918.2" height="895.5" fill="#eaeaf2"/>
<g class="g">
<line class="v" x1="1372.2" y1="1099.9" x2="1372.2" y2="1995.4"/>
<line class="v" x1="1486.2" y1="1099.9" x2="1486.2" y2="1995.4"/>
<line class="v" x1="1601.4" y1="1099.9" x2="1601.4" y2="1995.4"/>
<line class="v" x1="1713.7" y1="1099.9" x2="1713.7" y2="1995.4"/>
<line class="v" x1="1829.2" y1="1099.9" x2="1829.2" y2="1995.4"/>
<line class="v" x1="1943.9" y1="1099.9" x2="1943.9" y2="1995.4"/>
<line class="v" x1="2055.9" y1="1099.9" x2="2055.9" y2="1995.4"/>
<line class="v" x1="2170.5" y1="1099.9" x2="2170.5" y2="1995.4"/>
<line x1="1266.4" y1="1890.9" x2="2184.6" y2="1890.9"/>
<line x1="1266.4" y1="1781.1" x2="2184.6" y2="1781.1"/>
<line x1="1266.4" y1="1670.7" x2="2184.6" y2="1670.7"/>
<line x1="1266.4" y1="1559.3" x2="2184.6" y2="1559.3"/>
<line x1="1266.4" y1="1446.5" x2="2184.6" y2="1446.5"/>
<line x1="1266.4" y1="1335.6" x2="2184.6" y2="1335.6"/>
<line x1="1266.4" y1="1225.4" x2="2184.6" y2="1225.4"/>
<line x1="1266.4" y1="1115.1" x2="2184.6" y2="1115.1"/>
</g>
<g class="d" clip-path="url(#c4b)">
<circle cx="1716.2" cy="1532.3" r="4.9"/>
<circle cx="2057.9" cy="1251.5" r="4.9"/>
<circle cx="1734.2" cy="1544.7" r="4.9"/>
<circle cx="2050.3" cy="1254.8" r="4.9"/>
<circle cx="1750.0" cy="1534.7" r="4.9"/>
<circle cx="1431.8" cy="1819.6" r="4.9"/>
<circle cx="2063.5" cy="1246.8" r="4.9"/>
<circle cx="1434.3" cy="1551.9" r="4.9"/>
<circle cx="1392.5" cy="1829.7" r="4.9"/>
<circle cx="2068.8" cy="1232.6" r="4.9"/>
<circle cx="1742.2" cy="1554.0" r="4.9"/>
<circle cx="2055.9" cy="1224.9" r="4.9"/>
<circle cx="1742.2" cy="1558.8" r="4.9"/>
<circle cx="1700.4" cy="1559.3" r="4.9"/>
<circle cx="1716.2" cy="1562.1" r="4.9"/>
<circle cx="2084.4" cy="1556.9" r="4.9"/>
<circle cx="1742.2" cy="1500.4" r="4.9"/>
<circle cx="1734.2" cy="1571.7" r="4.9"/>
<circle cx="1682.4" cy="1497.7" r="4.9"/>
<circle cx="1682.4" cy="1558.5" r="4.9"/>
<circle cx="1682.4" cy="1562.9" r="4.9"/>
<circle cx="1682.4" cy="1567.7" r="4.9"/>
<circle cx="2032.1" cy="1284.1" r="4.9"/>
<circle cx="1418.6" cy="1576.5" r="4.9"/>
<circle cx="1784.1" cy="1579.0" r="4.9"/>
<circle cx="2042.6" cy="1291.7" r="4.9"/>
<circle cx="1671.9" cy="1519.9" r="4.9"/>
<circle cx="1689.9" cy="1584.1" r="4.9"/>
<circle cx="1673.8" cy="1585.9" r="4.9"/>
<circle cx="1696.4" cy="1586.2" r="4.9"/>
<circle cx="1726.6" cy="1777.9" r="4.9"/>
<circle cx="1675.4" cy="1587.5" r="4.9"/>
<circle cx="1977.4" cy="1527.5" r="4.9"/>
<circle cx="1666.6" cy="1294.3" r="4.9"/>
<circle cx="1666.6" cy="1549.5" r="4.9"/>
<circle cx="1666.6" cy="1562.1" r="4.9"/>
<circle cx="1415.8" cy="1776.1" r="4.9"/>
<circle cx="1789.4" cy="1589.1" r="4.9"/>
<circle cx="2105.4" cy="1274.2" r="4.9"/>
<circle cx="1664.2" cy="1492.8" r="4.9"/>
<circle cx="2008.5" cy="1301.0" r="4.9"/>
<circle cx="1760.7" cy="1593.8" r="4.9"/>
<circle cx="1374.3" cy="1770.6" r="4.9"/>
<circle cx="1405.4" cy="1770.6" r="4.9"/>
<circle cx="1419.0" cy="1770.1" r="4.9"/>
<circle cx="1802.3" cy="1488.0" r="4.9"/>
<circle cx="1685.1" cy="1598.8" r="4.9"/>
<circle cx="1656.1" cy="1547.1" r="4.9"/>
<circle cx="1656.1" cy="1593.8" r="4.9"/>
<circle cx="1755.1" cy="1601.5" r="4.9"/>
<circle cx="1794.5" cy="1601.5" r="4.9"/>
<circle cx="1653.4" cy="1525.0" r="4.9"/>
<circle cx="1653.4" cy="1601.2" r="4.9"/>
<circle cx="1776.5" cy="1466.3" r="4.9"/>
<circle cx="2008.5" cy="1313.9" r="4.9"/>
<circle cx="1810.3" cy="1478.0" r="4.9"/>
<circle cx="1810.3" cy="1505.2" r="4.9"/>
<circle cx="1810.3" cy="1515.1" r="4.9"/>
<circle cx="1669.3" cy="1606.0" r="4.9"/>
<circle cx="1768.3" cy="1463.6" r="4.9"/>
<circle cx="1956.5" cy="1306.2" r="4.9"/>
<circle cx="1656.1" cy="1321.2" r="4.9"/>
<circle cx="1700.4" cy="1611.2" r="4.9"/>
<circle cx="1802.6" cy="1456.3" r="4.9"/>
<circle cx="1418.6" cy="1750.8" r="4.9"/>
<circle cx="1820.6" cy="1483.2" r="4.9"/>
<circle cx="1794.5" cy="1453.9" r="4.9"/>
<circle cx="2050.3" cy="1326.3" r="4.9"/>
<circle cx="2021.6" cy="1328.4" r="4.9"/>
<circle cx="1819.5" cy="1451.0" r="4.9"/>
<circle cx="1974.6" cy="1330.8" r="4.9"/>
<circle cx="1998.3" cy="1620.8" r="4.9"/>
<circle cx="1825.9" cy="1451.5" r="4.9"/>
<circle cx="1418.6" cy="1743.6" r="4.9"/>
<circle cx="2008.5" cy="1333.6" r="4.9"/>
<circle cx="1828.7" cy="1473.2" r="4.9"/>
<circle cx="1829.2" cy="1455.3" r="4.9"/>
<circle cx="1721.3" cy="1336.0" r="4.9"/>
<circle cx="1742.2" cy="1336.0" r="4.9"/>
<circle cx="1985.4" cy="1336.0" r="4.9"/>
<circle cx="1831.2" cy="1473.2" r="4.9"/>
<circle cx="1937.9" cy="1456.3" r="4.9"/>
<circle cx="2050.3" cy="1628.4" r="4.9"/>
<circle cx="1820.6" cy="1441.3" r="4.9"/>
<circle cx="1982.2" cy="1340.8" r="4.9"/>
<circle cx="1632.8" cy="1630.8" r="4.9"/>
<circle cx="1674.6" cy="1630.8" r="4.9"/>
<circle cx="1797.0" cy="1438.9" r="4.9"/>
<circle cx="1836.4" cy="1441.3" r="4.9"/>
<circle cx="1836.4" cy="1556.9" r="4.9"/>
<circle cx="1622.3" cy="1586.2" r="4.9"/>
<circle cx="1734.2" cy="1633.4" r="4.9"/>
<circle cx="1752.7" cy="1633.4" r="4.9"/>
<circle cx="1820.6" cy="1633.4" r="4.9"/>
<circle cx="1460.4" cy="1731.5" r="4.9"/>
<circle cx="1619.9" cy="1603.6" r="4.9"/>
<circle cx="1666.6" cy="1635.6" r="4.9"/>
<circle cx="1974.6" cy="1345.8" r="4.9"/>
<circle cx="1617.2" cy="1549.5" r="4.9"/>
<circle cx="1937.9" cy="1348.0" r="4.9"/>
<circle cx="1998.3" cy="1350.5" r="4.9"/>
<circle cx="1643.2" cy="1640.5" r="4.9"/>
<circle cx="1713.7" cy="1640.5" r="4.9"/>
<circle cx="1444.6" cy="1723.9" r="4.9"/>
<circle cx="1948.7" cy="1424.4" r="4.9"/>
<circle cx="1609.1" cy="1554.3" r="4.9"/>
<circle cx="1374.3" cy="1719.1" r="4.9"/>
<circle cx="1512.4" cy="1719.1" r="4.9"/>
<circle cx="1852.0" cy="1544.8" r="4.9"/>
<circle cx="1628.8" cy="1647.7" r="4.9"/>
<circle cx="2163.0" cy="1254.8" r="4.9"/>
<circle cx="1964.2" cy="1358.2" r="4.9"/>
<circle cx="1606.7" cy="1603.6" r="4.9"/>
<circle cx="1478.4" cy="1716.7" r="4.9"/>
<circle cx="1487.0" cy="1716.7" r="4.9"/>
<circle cx="1854.6" cy="1529.9" r="4.9"/>
<circle cx="1678.3" cy="1649.8" r="4.9"/>
<circle cx="1922.3" cy="1360.3" r="4.9"/>
<circle cx="1937.9" cy="1360.6" r="4.9"/>
<circle cx="2003.6" cy="1360.6" r="4.9"/>
<circle cx="2050.3" cy="1360.6" r="4.9"/>
<circle cx="1836.9" cy="1419.1" r="4.9"/>
<circle cx="1546.2" cy="1612.4" r="4.9"/>
<circle cx="1546.2" cy="1616.8" r="4.9"/>
<circle cx="1546.2" cy="1621.3" r="4.9"/>
<circle cx="1679.9" cy="1651.7" r="4.9"/>
<circle cx="1632.0" cy="1652.2" r="4.9"/>
<circle cx="1835.9" cy="1417.7" r="4.9"/>
<circle cx="1418.6" cy="1711.4" r="4.9"/>
<circle cx="2170.5" cy="1316.3" r="4.9"/>
<circle cx="1862.5" cy="1296.5" r="4.9"/>
<circle cx="1862.5" cy="1434.1" r="4.9"/>
<circle cx="1862.5" cy="1490.8" r="4.9"/>
<circle cx="1622.3" cy="1657.8" r="4.9"/>
<circle cx="1911.4" cy="1368.6" r="4.9"/>
<circle cx="1340.5" cy="1660.3" r="4.9"/>
<circle cx="1421.3" cy="1660.3" r="4.9"/>
<circle cx="2074.0" cy="1409.6" r="4.9"/>
<circle cx="1904.1" cy="1367.8" r="4.9"/>
<circle cx="1904.1" cy="1566.6" r="4.9"/>
<circle cx="1916.7" cy="1372.2" r="4.9"/>
<circle cx="2177.8" cy="1313.9" r="4.9"/>
<circle cx="1867.8" cy="1482.9" r="4.9"/>
<circle cx="1844.4" cy="1701.7" r="4.9"/>
<circle cx="1706.0" cy="1375.1" r="4.9"/>
<circle cx="1514.8" cy="1665.1" r="4.9"/>
<circle cx="1666.6" cy="1665.1" r="4.9"/>
<circle cx="1870.2" cy="1452.6" r="4.9"/>
<circle cx="1870.2" cy="1456.6" r="4.9"/>
<circle cx="1870.2" cy="1461.0" r="4.9"/>
<circle cx="1922.3" cy="1404.8" r="4.9"/>
<circle cx="1913.0" cy="1375.9" r="4.9"/>
<circle cx="1562.3" cy="1662.2" r="4.9"/>
<circle cx="1562.3" cy="1666.7" r="4.9"/>
<circle cx="1382.0" cy="1401.9" r="4.9"/>
<circle cx="2186.4" cy="1305.9" r="4.9"/>
<circle cx="1486.2" cy="1669.6" r="4.9"/>
<circle cx="1789.2" cy="1379.9" r="4.9"/>
<circle cx="1520.8" cy="1669.9" r="4.9"/>
<circle cx="1496.6" cy="1669.9" r="4.9"/>
<circle cx="1588.2" cy="1669.9" r="4.9"/>
<circle cx="1601.4" cy="1399.8" r="4.9"/>
<circle cx="2058.4" cy="1380.2" r="4.9"/>
<circle cx="1893.7" cy="1404.8" r="4.9"/>
<circle cx="1706.0" cy="1692.1" r="4.9"/>
<circle cx="1878.2" cy="1377.5" r="4.9"/>
<circle cx="1878.2" cy="1471.1" r="4.9"/>
<circle cx="1878.2" cy="1503.3" r="4.9"/>
<circle cx="1878.2" cy="1574.1" r="4.9"/>
<circle cx="1580.9" cy="1598.8" r="4.9"/>
<circle cx="1580.8" cy="1711.7" r="4.9"/>
<circle cx="1486.2" cy="1674.7" r="4.9"/>
<circle cx="2021.6" cy="1674.7" r="4.9"/>
<circle cx="1896.1" cy="1395.0" r="4.9"/>
<circle cx="1974.2" cy="1395.0" r="4.9"/>
<circle cx="1983.0" cy="1395.0" r="4.9"/>
<circle cx="1888.5" cy="1436.5" r="4.9"/>
<circle cx="1888.5" cy="1586.5" r="4.9"/>
<circle cx="1870.2" cy="1387.2" r="4.9"/>
<circle cx="2102.6" cy="1387.2" r="4.9"/>
<circle cx="1512.2" cy="1677.2" r="4.9"/>
<circle cx="2008.5" cy="1677.2" r="4.9"/>
<circle cx="1572.6" cy="1618.4" r="4.9"/>
<circle cx="1572.6" cy="1633.4" r="4.9"/>
<circle cx="1935.5" cy="1392.2" r="4.9"/>
<circle cx="1291.1" cy="1687.2" r="4.9"/>
<circle cx="1265.7" cy="1581.4" r="4.9"/>
<circle cx="1726.6" cy="1679.6" r="4.9"/>
<circle cx="1580.8" cy="1684.8" r="4.9"/>
<circle cx="1773.6" cy="1681.9" r="4.9"/>
</g></g>
</g>
<g class="bl">
<g id="p1">
<text class="tk" transform="translate(223.9,992.7) scale(1.045,1)" text-anchor="middle">5,000</text>
<text class="tk" transform="translate(348.8,992.7) scale(1.045,1)" text-anchor="middle">6,000</text>
<text class="tk" transform="translate(474.4,992.7) scale(1.045,1)" text-anchor="middle">7,000</text>
<text class="tk" transform="translate(599.2,992.7) scale(1.045,1)" text-anchor="middle">8,000</text>
<text class="tk" transform="translate(727.3,992.7) scale(1.045,1)" text-anchor="middle">9,000</text>
<text class="tk" transform="translate(853.6,992.7) scale(1.045,1)" text-anchor="middle">10,000</text>
<text class="tk" transform="translate(980.0,992.7) scale(1.045,1)" text-anchor="middle">11,000</text>
<text class="tk" transform="translate(139.4,898.0) scale(1.045,1)" text-anchor="end">5,000</text>
<text class="tk" transform="translate(139.4,776.8) scale(1.045,1)" text-anchor="end">6,000</text>
<text class="tk" transform="translate(139.4,654.5) scale(1.045,1)" text-anchor="end">7,000</text>
<text class="tk" transform="translate(139.4,532.5) scale(1.045,1)" text-anchor="end">8,000</text>
<text class="tk" transform="translate(139.4,411.5) scale(1.045,1)" text-anchor="end">9,000</text>
<text class="tk" transform="translate(139.4,288.7) scale(1.045,1)" text-anchor="end">10,000</text>
<text class="tk" transform="translate(139.4,166.0) scale(1.045,1)" text-anchor="end">11,000</text>
<text class="ti" transform="translate(625.8,37.0) scale(1.17,1)" text-anchor="middle">Fold 1</text>
<text class="lb" transform="translate(627.2,1027.2) scale(1.173,1)" text-anchor="middle">Altitude, m</text>
<text class="yl" transform="translate(44.4,543.6) rotate(-90) scale(1.042,1)" text-anchor="middle">Estimation of altitude, m</text>
</g>
<g id="p2">
<text class="tk" transform="translate(1284.1,992.7) scale(1.045,1)" text-anchor="middle">5,000</text>
<text class="tk" transform="translate(1422.1,992.7) scale(1.045,1)" text-anchor="middle">6,000</text>
<text class="tk" transform="translate(1560.1,992.7) scale(1.045,1)" text-anchor="middle">7,000</text>
<text class="tk" transform="translate(1698.7,992.7) scale(1.045,1)" text-anchor="middle">8,000</text>
<text class="tk" transform="translate(1831.1,992.7) scale(1.045,1)" text-anchor="middle">9,000</text>
<text class="tk" transform="translate(1968.1,992.7) scale(1.045,1)" text-anchor="middle">10,000</text>
<text class="tk" transform="translate(2106.2,992.7) scale(1.045,1)" text-anchor="middle">11,000</text>
<text class="tk" transform="translate(1236.3,942.6) scale(1.045,1)" text-anchor="end">5,000</text>
<text class="tk" transform="translate(1236.3,807.9) scale(1.045,1)" text-anchor="end">6,000</text>
<text class="tk" transform="translate(1236.3,674.3) scale(1.045,1)" text-anchor="end">7,000</text>
<text class="tk" transform="translate(1236.3,540.1) scale(1.045,1)" text-anchor="end">8,000</text>
<text class="tk" transform="translate(1236.3,404.2) scale(1.045,1)" text-anchor="end">9,000</text>
<text class="tk" transform="translate(1236.3,271.7) scale(1.045,1)" text-anchor="end">10,000</text>
<text class="tk" transform="translate(1236.3,135.9) scale(1.045,1)" text-anchor="end">11,000</text>
<text class="ti" transform="translate(1723.9,37.0) scale(1.17,1)" text-anchor="middle">Fold 2</text>
<text class="lb" transform="translate(1725.4,1027.2) scale(1.173,1)" text-anchor="middle">Altitude, m</text>
<text class="yl" transform="translate(1141.3,543.6) rotate(-90) scale(1.042,1)" text-anchor="middle">Estimation of altitude, m</text>
</g>
<g id="p3">
<text class="tk" transform="translate(184.8,2037.0) scale(1.045,1)" text-anchor="middle">5,000</text>
<text class="tk" transform="translate(317.6,2037.0) scale(1.045,1)" text-anchor="middle">6,000</text>
<text class="tk" transform="translate(453.3,2037.0) scale(1.045,1)" text-anchor="middle">7,000</text>
<text class="tk" transform="translate(586.6,2037.0) scale(1.045,1)" text-anchor="middle">8,000</text>
<text class="tk" transform="translate(719.1,2037.0) scale(1.045,1)" text-anchor="middle">9,000</text>
<text class="tk" transform="translate(853.6,2037.0) scale(1.045,1)" text-anchor="middle">10,000</text>
<text class="tk" transform="translate(990.6,2037.0) scale(1.045,1)" text-anchor="middle">11,000</text>
<text class="tk" transform="translate(138.1,1988.7) scale(1.045,1)" text-anchor="end">5,000</text>
<text class="tk" transform="translate(138.1,1858.3) scale(1.045,1)" text-anchor="end">6,000</text>
<text class="tk" transform="translate(138.1,1728.4) scale(1.045,1)" text-anchor="end">7,000</text>
<text class="tk" transform="translate(138.1,1598.1) scale(1.045,1)" text-anchor="end">8,000</text>
<text class="tk" transform="translate(138.1,1468.0) scale(1.045,1)" text-anchor="end">9,000</text>
<text class="tk" transform="translate(138.1,1337.4) scale(1.045,1)" text-anchor="end">10,000</text>
<text class="tk" transform="translate(138.1,1207.5) scale(1.045,1)" text-anchor="end">11,000</text>
<text class="ti" transform="translate(625.7,1081.9) scale(1.17,1)" text-anchor="middle">Fold 3</text>
<text class="lb" transform="translate(627.2,2073.5) scale(1.173,1)" text-anchor="middle">Altitude, m</text>
<text class="yl" transform="translate(44.4,1589.2) rotate(-90) scale(1.042,1)" text-anchor="middle">Estimation of altitude, m</text>
</g>
<g id="p4">
<text class="tk" transform="translate(1369.6,2036.9) scale(1.045,1)" text-anchor="middle">5,000</text>
<text class="tk" transform="translate(1484.6,2036.9) scale(1.045,1)" text-anchor="middle">6,000</text>
<text class="tk" transform="translate(1599.8,2036.9) scale(1.045,1)" text-anchor="middle">7,000</text>
<text class="tk" transform="translate(1711.6,2036.9) scale(1.045,1)" text-anchor="middle">8,000</text>
<text class="tk" transform="translate(1827.1,2036.9) scale(1.045,1)" text-anchor="middle">9,000</text>
<text class="tk" transform="translate(1939.4,2036.9) scale(1.045,1)" text-anchor="middle">10,000</text>
<text class="tk" transform="translate(2055.9,2036.9) scale(1.045,1)" text-anchor="middle">11,000</text>
<text class="tk" transform="translate(2169.6,2036.9) scale(1.045,1)" text-anchor="middle">12,000</text>
<text class="tk" transform="translate(1235.1,1899.9) scale(1.045,1)" text-anchor="end">5,000</text>
<text class="tk" transform="translate(1235.1,1790.1) scale(1.045,1)" text-anchor="end">6,000</text>
<text class="tk" transform="translate(1235.1,1679.7) scale(1.045,1)" text-anchor="end">7,000</text>
<text class="tk" transform="translate(1235.1,1568.3) scale(1.045,1)" text-anchor="end">8,000</text>
<text class="tk" transform="translate(1235.1,1455.5) scale(1.045,1)" text-anchor="end">9,000</text>
<text class="tk" transform="translate(1235.1,1344.6) scale(1.045,1)" text-anchor="end">10,000</text>
<text class="tk" transform="translate(1235.1,1234.4) scale(1.045,1)" text-anchor="end">11,000</text>
<text class="tk" transform="translate(1235.1,1124.1) scale(1.045,1)" text-anchor="end">12,000</text>
<text class="ti" transform="translate(1724.0,1081.9) scale(1.17,1)" text-anchor="middle">Fold 4</text>
<text class="lb" transform="translate(1725.5,2073.4) scale(1.173,1)" text-anchor="middle">Altitude, m</text>
<text class="yl" transform="translate(1141.4,1589.2) rotate(-90) scale(1.042,1)" text-anchor="middle">Estimation of altitude, m</text>
</g>
</g>
</svg></body></html>
